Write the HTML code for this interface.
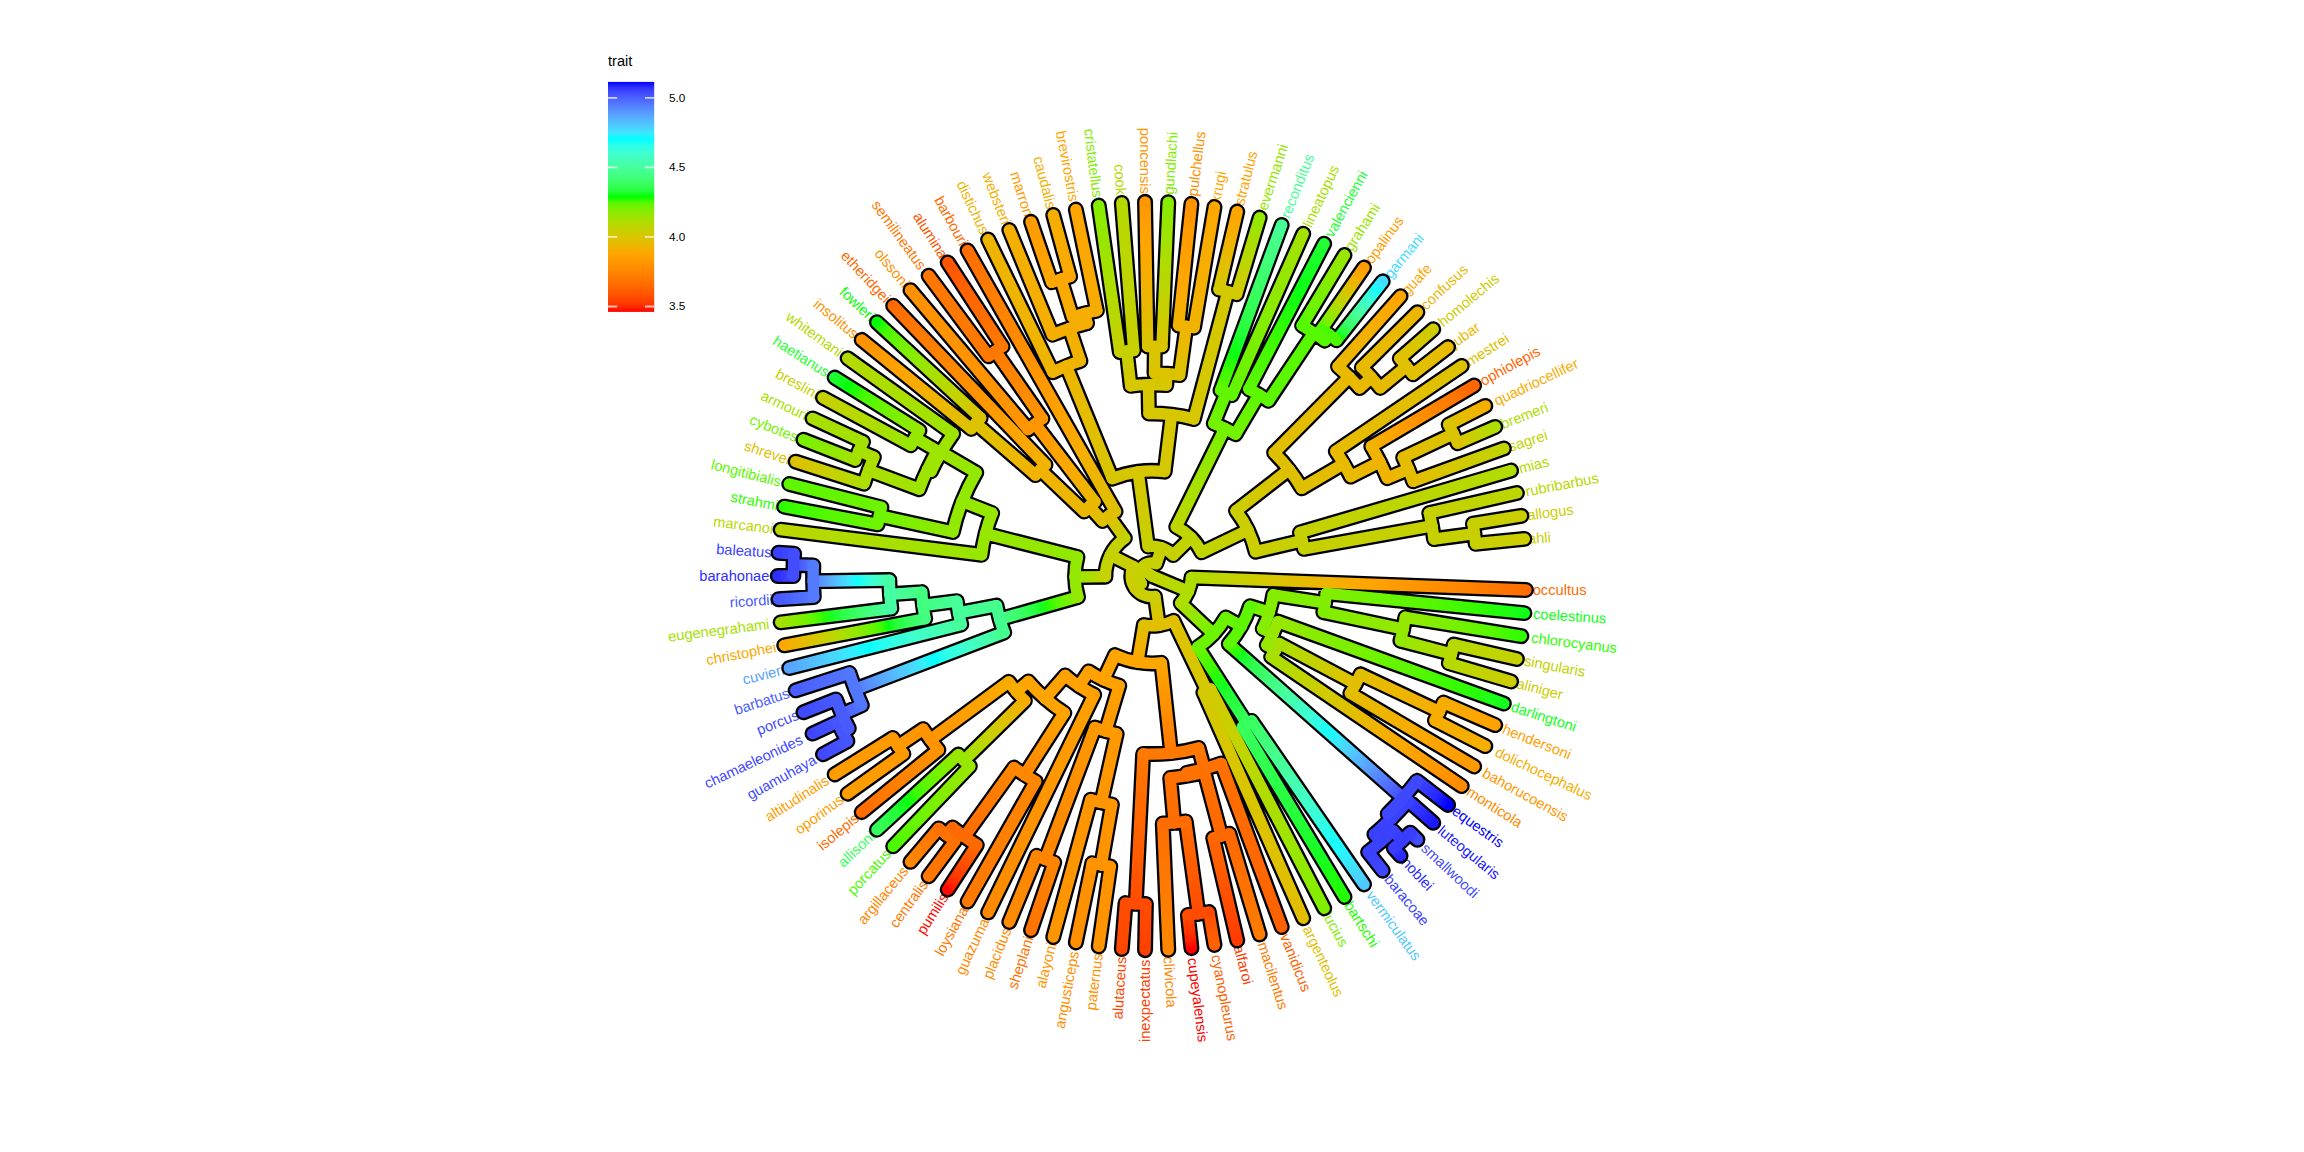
<!DOCTYPE html>
<html><head><meta charset="utf-8"><title>tree</title>
<style>html,body{margin:0;padding:0;background:#fff}svg{display:block}text{font-family:"Liberation Sans",sans-serif}</style>
</head><body>
<svg width="2304" height="1152" viewBox="0 0 2304 1152">
<defs><linearGradient id="g1" gradientUnits="userSpaceOnUse" x1="1475.61" y1="543.75" x2="1524.36" y2="538.89"><stop offset="0.000" stop-color="#c8cf00"/><stop offset="1.000" stop-color="#cbce00"/></linearGradient><linearGradient id="g2" gradientUnits="userSpaceOnUse" x1="1472.99" y1="523.73" x2="1521.34" y2="515.86"><stop offset="0.000" stop-color="#c8cf00"/><stop offset="1.000" stop-color="#cace00"/></linearGradient><linearGradient id="g3" gradientUnits="userSpaceOnUse" x1="1433.98" y1="539.03" x2="1474.46" y2="533.72"><stop offset="0.000" stop-color="#c5d100"/><stop offset="1.000" stop-color="#c8cf00"/></linearGradient><linearGradient id="g4" gradientUnits="userSpaceOnUse" x1="1429.32" y1="512.96" x2="1516.89" y2="493.06"><stop offset="0.000" stop-color="#c5d100"/><stop offset="1.000" stop-color="#bbd600"/></linearGradient><linearGradient id="g5" gradientUnits="userSpaceOnUse" x1="1303.87" y1="548.84" x2="1431.95" y2="525.94"><stop offset="0.000" stop-color="#c6d000"/><stop offset="1.000" stop-color="#c5d100"/></linearGradient><linearGradient id="g6" gradientUnits="userSpaceOnUse" x1="1300.03" y1="532.53" x2="1511.04" y2="470.58"><stop offset="0.000" stop-color="#c6d000"/><stop offset="0.500" stop-color="#bdd600"/><stop offset="1.000" stop-color="#b2db00"/></linearGradient><linearGradient id="g7" gradientUnits="userSpaceOnUse" x1="1255.55" y1="551.61" x2="1302.17" y2="540.64"><stop offset="0.000" stop-color="#cbce00"/><stop offset="1.000" stop-color="#c6d000"/></linearGradient><linearGradient id="g8" gradientUnits="userSpaceOnUse" x1="1413.18" y1="481.34" x2="1503.81" y2="448.50"><stop offset="0.000" stop-color="#e4bd00"/><stop offset="0.250" stop-color="#dcc300"/><stop offset="0.500" stop-color="#d3c900"/><stop offset="0.750" stop-color="#cace00"/><stop offset="1.000" stop-color="#c0d400"/></linearGradient><linearGradient id="g9" gradientUnits="userSpaceOnUse" x1="1457.57" y1="443.27" x2="1495.22" y2="426.92"><stop offset="0.000" stop-color="#dac400"/><stop offset="0.250" stop-color="#d0cb00"/><stop offset="0.500" stop-color="#c5d100"/><stop offset="0.750" stop-color="#b9d800"/><stop offset="1.000" stop-color="#acde00"/></linearGradient><linearGradient id="g10" gradientUnits="userSpaceOnUse" x1="1448.75" y1="424.57" x2="1485.31" y2="405.91"><stop offset="0.000" stop-color="#dac400"/><stop offset="0.250" stop-color="#e2be00"/><stop offset="0.500" stop-color="#e9b900"/><stop offset="0.750" stop-color="#f0b300"/><stop offset="1.000" stop-color="#f7ac00"/></linearGradient><linearGradient id="g11" gradientUnits="userSpaceOnUse" x1="1403.25" y1="457.47" x2="1453.30" y2="433.85"><stop offset="0.000" stop-color="#e4bd00"/><stop offset="0.500" stop-color="#dfc000"/><stop offset="1.000" stop-color="#dac400"/></linearGradient><linearGradient id="g12" gradientUnits="userSpaceOnUse" x1="1387.25" y1="478.13" x2="1408.49" y2="469.29"><stop offset="0.000" stop-color="#f0b300"/><stop offset="0.500" stop-color="#eab800"/><stop offset="1.000" stop-color="#e4bd00"/></linearGradient><linearGradient id="g13" gradientUnits="userSpaceOnUse" x1="1371.33" y1="446.33" x2="1474.11" y2="385.56"><stop offset="0.000" stop-color="#f0b300"/><stop offset="0.100" stop-color="#f8ab00"/><stop offset="0.200" stop-color="#ffa400"/><stop offset="0.300" stop-color="#ff9c00"/><stop offset="0.400" stop-color="#ff9500"/><stop offset="0.500" stop-color="#ff8e00"/><stop offset="0.600" stop-color="#ff8600"/><stop offset="0.700" stop-color="#ff7e00"/><stop offset="0.800" stop-color="#ff7600"/><stop offset="0.900" stop-color="#ff6e00"/><stop offset="1.000" stop-color="#ff6500"/></linearGradient><linearGradient id="g14" gradientUnits="userSpaceOnUse" x1="1350.66" y1="476.56" x2="1379.84" y2="461.95"><stop offset="0.000" stop-color="#e8ba00"/><stop offset="1.000" stop-color="#f0b300"/></linearGradient><linearGradient id="g15" gradientUnits="userSpaceOnUse" x1="1335.85" y1="451.29" x2="1461.68" y2="365.94"><stop offset="0.000" stop-color="#e8ba00"/><stop offset="0.500" stop-color="#e2be00"/><stop offset="1.000" stop-color="#ddc200"/></linearGradient><linearGradient id="g16" gradientUnits="userSpaceOnUse" x1="1301.74" y1="488.25" x2="1343.68" y2="463.68"><stop offset="0.000" stop-color="#dfc000"/><stop offset="1.000" stop-color="#e8ba00"/></linearGradient><linearGradient id="g17" gradientUnits="userSpaceOnUse" x1="1412.85" y1="374.34" x2="1448.05" y2="347.13"><stop offset="0.000" stop-color="#e0c000"/><stop offset="1.000" stop-color="#e8ba00"/></linearGradient><linearGradient id="g18" gradientUnits="userSpaceOnUse" x1="1399.83" y1="358.54" x2="1433.27" y2="329.20"><stop offset="0.000" stop-color="#e0c000"/><stop offset="0.500" stop-color="#d7c600"/><stop offset="1.000" stop-color="#cdcc00"/></linearGradient><linearGradient id="g19" gradientUnits="userSpaceOnUse" x1="1380.32" y1="387.88" x2="1406.46" y2="366.34"><stop offset="0.000" stop-color="#e7ba00"/><stop offset="1.000" stop-color="#e0c000"/></linearGradient><linearGradient id="g20" gradientUnits="userSpaceOnUse" x1="1361.84" y1="367.46" x2="1417.42" y2="312.22"><stop offset="0.000" stop-color="#e7ba00"/><stop offset="1.000" stop-color="#ecb600"/></linearGradient><linearGradient id="g21" gradientUnits="userSpaceOnUse" x1="1359.64" y1="388.02" x2="1371.32" y2="377.45"><stop offset="0.000" stop-color="#e9b900"/><stop offset="1.000" stop-color="#e7ba00"/></linearGradient><linearGradient id="g22" gradientUnits="userSpaceOnUse" x1="1338.03" y1="366.62" x2="1400.54" y2="296.26"><stop offset="0.000" stop-color="#e9b900"/><stop offset="0.333" stop-color="#f1b200"/><stop offset="0.667" stop-color="#f8ac00"/><stop offset="1.000" stop-color="#fea600"/></linearGradient><linearGradient id="g23" gradientUnits="userSpaceOnUse" x1="1274.15" y1="452.71" x2="1349.13" y2="377.03"><stop offset="0.000" stop-color="#dfc000"/><stop offset="0.500" stop-color="#e4bc00"/><stop offset="1.000" stop-color="#e9b900"/></linearGradient><linearGradient id="g24" gradientUnits="userSpaceOnUse" x1="1236.04" y1="510.77" x2="1289.10" y2="469.58"><stop offset="0.000" stop-color="#cbce00"/><stop offset="0.500" stop-color="#d5c700"/><stop offset="1.000" stop-color="#dfc000"/></linearGradient><linearGradient id="g25" gradientUnits="userSpaceOnUse" x1="1201.50" y1="552.35" x2="1247.99" y2="530.14"><stop offset="0.000" stop-color="#bfd400"/><stop offset="0.500" stop-color="#c5d100"/><stop offset="1.000" stop-color="#cbce00"/></linearGradient><linearGradient id="g26" gradientUnits="userSpaceOnUse" x1="1336.56" y1="340.30" x2="1382.71" y2="281.38"><stop offset="0.000" stop-color="#4cfa00"/><stop offset="0.056" stop-color="#0eff00"/><stop offset="0.111" stop-color="#1eff2e"/><stop offset="0.167" stop-color="#2cff46"/><stop offset="0.222" stop-color="#35ff59"/><stop offset="0.278" stop-color="#3cff6a"/><stop offset="0.333" stop-color="#40ff7a"/><stop offset="0.389" stop-color="#44ff89"/><stop offset="0.444" stop-color="#45ff97"/><stop offset="0.500" stop-color="#46ffa5"/><stop offset="0.556" stop-color="#45ffb3"/><stop offset="0.611" stop-color="#43ffc1"/><stop offset="0.667" stop-color="#3effce"/><stop offset="0.722" stop-color="#38ffdc"/><stop offset="0.778" stop-color="#2dffe9"/><stop offset="0.833" stop-color="#1bfff7"/><stop offset="0.889" stop-color="#1df9ff"/><stop offset="0.944" stop-color="#38eaff"/><stop offset="1.000" stop-color="#45dbff"/></linearGradient><linearGradient id="g27" gradientUnits="userSpaceOnUse" x1="1321.58" y1="329.31" x2="1363.98" y2="267.63"><stop offset="0.000" stop-color="#4cfa00"/><stop offset="0.071" stop-color="#69f400"/><stop offset="0.143" stop-color="#7fee00"/><stop offset="0.214" stop-color="#91e900"/><stop offset="0.286" stop-color="#a1e300"/><stop offset="0.357" stop-color="#afdd00"/><stop offset="0.429" stop-color="#bcd600"/><stop offset="0.500" stop-color="#c7d000"/><stop offset="0.571" stop-color="#d2c900"/><stop offset="0.643" stop-color="#dcc200"/><stop offset="0.714" stop-color="#e6bb00"/><stop offset="0.786" stop-color="#efb300"/><stop offset="0.857" stop-color="#f8ab00"/><stop offset="0.929" stop-color="#ffa300"/><stop offset="1.000" stop-color="#ff9c00"/></linearGradient><linearGradient id="g28" gradientUnits="userSpaceOnUse" x1="1324.80" y1="340.63" x2="1329.16" y2="334.69"><stop offset="0.000" stop-color="#56f800"/><stop offset="1.000" stop-color="#4cfa00"/></linearGradient><linearGradient id="g29" gradientUnits="userSpaceOnUse" x1="1302.16" y1="325.58" x2="1344.44" y2="255.08"><stop offset="0.000" stop-color="#56f800"/><stop offset="0.250" stop-color="#6cf400"/><stop offset="0.500" stop-color="#7def00"/><stop offset="0.750" stop-color="#8ceb00"/><stop offset="1.000" stop-color="#99e600"/></linearGradient><linearGradient id="g30" gradientUnits="userSpaceOnUse" x1="1268.53" y1="400.71" x2="1313.65" y2="332.84"><stop offset="0.000" stop-color="#5df700"/><stop offset="1.000" stop-color="#56f800"/></linearGradient><linearGradient id="g31" gradientUnits="userSpaceOnUse" x1="1248.84" y1="389.11" x2="1324.16" y2="243.75"><stop offset="0.000" stop-color="#5df700"/><stop offset="0.333" stop-color="#3dfb00"/><stop offset="0.667" stop-color="#0bff13"/><stop offset="1.000" stop-color="#22ff35"/></linearGradient><linearGradient id="g32" gradientUnits="userSpaceOnUse" x1="1235.56" y1="434.17" x2="1258.84" y2="394.65"><stop offset="0.000" stop-color="#73f200"/><stop offset="1.000" stop-color="#5df700"/></linearGradient><linearGradient id="g33" gradientUnits="userSpaceOnUse" x1="1231.93" y1="395.07" x2="1303.21" y2="233.71"><stop offset="0.000" stop-color="#5ff600"/><stop offset="0.250" stop-color="#76f100"/><stop offset="0.500" stop-color="#88ec00"/><stop offset="0.750" stop-color="#97e600"/><stop offset="1.000" stop-color="#a5e100"/></linearGradient><linearGradient id="g34" gradientUnits="userSpaceOnUse" x1="1220.55" y1="390.46" x2="1281.68" y2="224.99"><stop offset="0.000" stop-color="#5ff600"/><stop offset="0.111" stop-color="#3ffb00"/><stop offset="0.222" stop-color="#09ff11"/><stop offset="0.333" stop-color="#21ff34"/><stop offset="0.444" stop-color="#2eff4a"/><stop offset="0.556" stop-color="#36ff5b"/><stop offset="0.667" stop-color="#3cff6b"/><stop offset="0.778" stop-color="#40ff7a"/><stop offset="0.889" stop-color="#44ff88"/><stop offset="1.000" stop-color="#45ff96"/></linearGradient><linearGradient id="g35" gradientUnits="userSpaceOnUse" x1="1213.81" y1="423.44" x2="1226.28" y2="392.67"><stop offset="0.000" stop-color="#73f200"/><stop offset="1.000" stop-color="#5ff600"/></linearGradient><linearGradient id="g36" gradientUnits="userSpaceOnUse" x1="1176.29" y1="526.81" x2="1224.88" y2="428.40"><stop offset="0.000" stop-color="#bfd400"/><stop offset="0.200" stop-color="#b3db00"/><stop offset="0.400" stop-color="#a6e100"/><stop offset="0.600" stop-color="#98e600"/><stop offset="0.800" stop-color="#87ec00"/><stop offset="1.000" stop-color="#73f200"/></linearGradient><linearGradient id="g37" gradientUnits="userSpaceOnUse" x1="1173.17" y1="555.10" x2="1191.04" y2="537.46"><stop offset="0.000" stop-color="#c6d000"/><stop offset="1.000" stop-color="#bfd400"/></linearGradient><linearGradient id="g38" gradientUnits="userSpaceOnUse" x1="1236.67" y1="294.13" x2="1259.65" y2="217.62"><stop offset="0.000" stop-color="#d3c900"/><stop offset="0.167" stop-color="#cace00"/><stop offset="0.333" stop-color="#c1d400"/><stop offset="0.500" stop-color="#b6d900"/><stop offset="0.667" stop-color="#abde00"/><stop offset="0.833" stop-color="#a0e300"/><stop offset="1.000" stop-color="#92e800"/></linearGradient><linearGradient id="g39" gradientUnits="userSpaceOnUse" x1="1219.02" y1="289.42" x2="1237.21" y2="211.63"><stop offset="0.000" stop-color="#d3c900"/><stop offset="0.200" stop-color="#ddc200"/><stop offset="0.400" stop-color="#e7bb00"/><stop offset="0.600" stop-color="#f0b300"/><stop offset="0.800" stop-color="#f8ac00"/><stop offset="1.000" stop-color="#ffa400"/></linearGradient><linearGradient id="g40" gradientUnits="userSpaceOnUse" x1="1193.90" y1="418.98" x2="1227.88" y2="291.64"><stop offset="0.000" stop-color="#d6c700"/><stop offset="1.000" stop-color="#d3c900"/></linearGradient><linearGradient id="g41" gradientUnits="userSpaceOnUse" x1="1194.03" y1="327.62" x2="1214.44" y2="207.05"><stop offset="0.000" stop-color="#f0b300"/><stop offset="0.500" stop-color="#f6ae00"/><stop offset="1.000" stop-color="#fca800"/></linearGradient><linearGradient id="g42" gradientUnits="userSpaceOnUse" x1="1178.54" y1="325.49" x2="1191.42" y2="203.88"><stop offset="0.000" stop-color="#f0b300"/><stop offset="0.200" stop-color="#f8ac00"/><stop offset="0.400" stop-color="#ffa500"/><stop offset="0.600" stop-color="#ff9f00"/><stop offset="0.800" stop-color="#ff9900"/><stop offset="1.000" stop-color="#ff9200"/></linearGradient><linearGradient id="g43" gradientUnits="userSpaceOnUse" x1="1179.61" y1="375.11" x2="1186.30" y2="326.43"><stop offset="0.000" stop-color="#dbc300"/><stop offset="0.333" stop-color="#e2be00"/><stop offset="0.667" stop-color="#e9b900"/><stop offset="1.000" stop-color="#f0b300"/></linearGradient><linearGradient id="g44" gradientUnits="userSpaceOnUse" x1="1161.97" y1="346.65" x2="1168.26" y2="202.15"><stop offset="0.000" stop-color="#dac400"/><stop offset="0.143" stop-color="#d0ca00"/><stop offset="0.286" stop-color="#c6d100"/><stop offset="0.429" stop-color="#bbd600"/><stop offset="0.571" stop-color="#b0dc00"/><stop offset="0.714" stop-color="#a3e200"/><stop offset="0.857" stop-color="#95e700"/><stop offset="1.000" stop-color="#85ed00"/></linearGradient><linearGradient id="g45" gradientUnits="userSpaceOnUse" x1="1147.72" y1="346.47" x2="1145.03" y2="201.86"><stop offset="0.000" stop-color="#dac400"/><stop offset="0.167" stop-color="#e3bd00"/><stop offset="0.333" stop-color="#edb600"/><stop offset="0.500" stop-color="#f5ae00"/><stop offset="0.667" stop-color="#fea600"/><stop offset="0.833" stop-color="#ff9f00"/><stop offset="1.000" stop-color="#ff9700"/></linearGradient><linearGradient id="g46" gradientUnits="userSpaceOnUse" x1="1166.25" y1="385.09" x2="1167.09" y2="373.78"><stop offset="0.000" stop-color="#d6c700"/><stop offset="1.000" stop-color="#dbc300"/></linearGradient><linearGradient id="g47" gradientUnits="userSpaceOnUse" x1="1133.76" y1="350.46" x2="1121.83" y2="203.02"><stop offset="0.000" stop-color="#c7d000"/><stop offset="0.500" stop-color="#bed500"/><stop offset="1.000" stop-color="#b6d900"/></linearGradient><linearGradient id="g48" gradientUnits="userSpaceOnUse" x1="1119.80" y1="352.02" x2="1098.75" y2="205.61"><stop offset="0.000" stop-color="#c7d000"/><stop offset="0.200" stop-color="#bcd600"/><stop offset="0.400" stop-color="#b0dc00"/><stop offset="0.600" stop-color="#a3e200"/><stop offset="0.800" stop-color="#95e700"/><stop offset="1.000" stop-color="#84ed00"/></linearGradient><linearGradient id="g49" gradientUnits="userSpaceOnUse" x1="1130.65" y1="385.75" x2="1126.76" y2="351.13"><stop offset="0.000" stop-color="#d6c700"/><stop offset="0.500" stop-color="#cecc00"/><stop offset="1.000" stop-color="#c7d000"/></linearGradient><linearGradient id="g50" gradientUnits="userSpaceOnUse" x1="1096.86" y1="310.67" x2="1075.87" y2="209.63"><stop offset="0.000" stop-color="#f7ac00"/><stop offset="1.000" stop-color="#ffa500"/></linearGradient><linearGradient id="g51" gradientUnits="userSpaceOnUse" x1="1070.11" y1="276.60" x2="1053.28" y2="215.06"><stop offset="0.000" stop-color="#fca800"/><stop offset="1.000" stop-color="#f4af00"/></linearGradient><linearGradient id="g52" gradientUnits="userSpaceOnUse" x1="1051.69" y1="282.26" x2="1031.08" y2="221.88"><stop offset="0.000" stop-color="#fca800"/><stop offset="0.500" stop-color="#ffa100"/><stop offset="1.000" stop-color="#ff9a00"/></linearGradient><linearGradient id="g53" gradientUnits="userSpaceOnUse" x1="1072.43" y1="316.95" x2="1060.86" y2="279.28"><stop offset="0.000" stop-color="#f7ac00"/><stop offset="1.000" stop-color="#fca800"/></linearGradient><linearGradient id="g54" gradientUnits="userSpaceOnUse" x1="1087.06" y1="323.20" x2="1084.57" y2="313.53"><stop offset="0.000" stop-color="#f5ae00"/><stop offset="1.000" stop-color="#f7ac00"/></linearGradient><linearGradient id="g55" gradientUnits="userSpaceOnUse" x1="1052.49" y1="334.71" x2="1009.34" y2="230.06"><stop offset="0.000" stop-color="#f5ae00"/><stop offset="1.000" stop-color="#f3b000"/></linearGradient><linearGradient id="g56" gradientUnits="userSpaceOnUse" x1="1080.41" y1="360.91" x2="1069.57" y2="328.35"><stop offset="0.000" stop-color="#efb400"/><stop offset="1.000" stop-color="#f5ae00"/></linearGradient><linearGradient id="g57" gradientUnits="userSpaceOnUse" x1="1112.29" y1="478.64" x2="1066.39" y2="366.10"><stop offset="0.000" stop-color="#d6c600"/><stop offset="0.333" stop-color="#dfc000"/><stop offset="0.667" stop-color="#e7ba00"/><stop offset="1.000" stop-color="#efb400"/></linearGradient><linearGradient id="g58" gradientUnits="userSpaceOnUse" x1="1148.05" y1="546.51" x2="1138.05" y2="471.78"><stop offset="0.000" stop-color="#c6d000"/><stop offset="0.500" stop-color="#cfcb00"/><stop offset="1.000" stop-color="#d6c600"/></linearGradient><linearGradient id="g59" gradientUnits="userSpaceOnUse" x1="1115.51" y1="511.56" x2="967.59" y2="250.40"><stop offset="0.000" stop-color="#dfc000"/><stop offset="0.091" stop-color="#e8b900"/><stop offset="0.182" stop-color="#f1b200"/><stop offset="0.273" stop-color="#faaa00"/><stop offset="0.364" stop-color="#ffa300"/><stop offset="0.455" stop-color="#ff9c00"/><stop offset="0.545" stop-color="#ff9400"/><stop offset="0.636" stop-color="#ff8d00"/><stop offset="0.727" stop-color="#ff8500"/><stop offset="0.818" stop-color="#ff7e00"/><stop offset="0.909" stop-color="#ff7500"/><stop offset="1.000" stop-color="#ff6d00"/></linearGradient><linearGradient id="g60" gradientUnits="userSpaceOnUse" x1="1002.50" y1="346.52" x2="947.74" y2="262.47"><stop offset="0.000" stop-color="#ff7900"/><stop offset="0.250" stop-color="#ff7100"/><stop offset="0.500" stop-color="#ff6800"/><stop offset="0.750" stop-color="#ff5f00"/><stop offset="1.000" stop-color="#ff5400"/></linearGradient><linearGradient id="g61" gradientUnits="userSpaceOnUse" x1="988.55" y1="356.24" x2="928.68" y2="275.74"><stop offset="0.000" stop-color="#ff7900"/><stop offset="1.000" stop-color="#ff7700"/></linearGradient><linearGradient id="g62" gradientUnits="userSpaceOnUse" x1="1042.38" y1="418.64" x2="995.45" y2="351.27"><stop offset="0.000" stop-color="#ff9500"/><stop offset="0.250" stop-color="#ff8f00"/><stop offset="0.500" stop-color="#ff8800"/><stop offset="0.750" stop-color="#ff8100"/><stop offset="1.000" stop-color="#ff7900"/></linearGradient><linearGradient id="g63" gradientUnits="userSpaceOnUse" x1="1028.22" y1="429.52" x2="910.48" y2="290.18"><stop offset="0.000" stop-color="#ff9500"/><stop offset="1.000" stop-color="#ff9100"/></linearGradient><linearGradient id="g64" gradientUnits="userSpaceOnUse" x1="1094.97" y1="501.75" x2="1035.17" y2="423.91"><stop offset="0.000" stop-color="#eab800"/><stop offset="0.200" stop-color="#f2b100"/><stop offset="0.400" stop-color="#faaa00"/><stop offset="0.600" stop-color="#ffa300"/><stop offset="0.800" stop-color="#ff9c00"/><stop offset="1.000" stop-color="#ff9500"/></linearGradient><linearGradient id="g65" gradientUnits="userSpaceOnUse" x1="1045.46" y1="464.72" x2="893.21" y2="305.71"><stop offset="0.000" stop-color="#f1b200"/><stop offset="0.111" stop-color="#faaa00"/><stop offset="0.222" stop-color="#ffa200"/><stop offset="0.333" stop-color="#ff9b00"/><stop offset="0.444" stop-color="#ff9400"/><stop offset="0.556" stop-color="#ff8c00"/><stop offset="0.667" stop-color="#ff8400"/><stop offset="0.778" stop-color="#ff7c00"/><stop offset="0.889" stop-color="#ff7400"/><stop offset="1.000" stop-color="#ff6b00"/></linearGradient><linearGradient id="g66" gradientUnits="userSpaceOnUse" x1="980.64" y1="417.94" x2="876.94" y2="322.29"><stop offset="0.000" stop-color="#ddc200"/><stop offset="0.091" stop-color="#d3c800"/><stop offset="0.182" stop-color="#cacf00"/><stop offset="0.273" stop-color="#bfd500"/><stop offset="0.364" stop-color="#b4da00"/><stop offset="0.455" stop-color="#a7e000"/><stop offset="0.545" stop-color="#9ae500"/><stop offset="0.636" stop-color="#8beb00"/><stop offset="0.727" stop-color="#79f000"/><stop offset="0.818" stop-color="#64f500"/><stop offset="0.909" stop-color="#47fa00"/><stop offset="1.000" stop-color="#01ff02"/></linearGradient><linearGradient id="g67" gradientUnits="userSpaceOnUse" x1="971.16" y1="428.88" x2="861.73" y2="339.85"><stop offset="0.000" stop-color="#ddc200"/><stop offset="0.143" stop-color="#e5bc00"/><stop offset="0.286" stop-color="#eeb500"/><stop offset="0.429" stop-color="#f6ae00"/><stop offset="0.571" stop-color="#fda700"/><stop offset="0.714" stop-color="#ffa000"/><stop offset="0.857" stop-color="#ff9900"/><stop offset="1.000" stop-color="#ff9200"/></linearGradient><linearGradient id="g68" gradientUnits="userSpaceOnUse" x1="1035.57" y1="475.11" x2="975.81" y2="423.33"><stop offset="0.000" stop-color="#f1b200"/><stop offset="0.333" stop-color="#ebb800"/><stop offset="0.667" stop-color="#e4bd00"/><stop offset="1.000" stop-color="#ddc200"/></linearGradient><linearGradient id="g69" gradientUnits="userSpaceOnUse" x1="1084.17" y1="511.46" x2="1040.39" y2="469.80"><stop offset="0.000" stop-color="#eab800"/><stop offset="1.000" stop-color="#f1b200"/></linearGradient><linearGradient id="g70" gradientUnits="userSpaceOnUse" x1="1102.47" y1="520.95" x2="1089.38" y2="506.40"><stop offset="0.000" stop-color="#dfc000"/><stop offset="0.500" stop-color="#e5bc00"/><stop offset="1.000" stop-color="#eab800"/></linearGradient><linearGradient id="g71" gradientUnits="userSpaceOnUse" x1="1124.80" y1="538.22" x2="1108.73" y2="515.90"><stop offset="0.000" stop-color="#c3d200"/><stop offset="0.333" stop-color="#cdcc00"/><stop offset="0.667" stop-color="#d6c600"/><stop offset="1.000" stop-color="#dfc000"/></linearGradient><linearGradient id="g72" gradientUnits="userSpaceOnUse" x1="953.13" y1="433.76" x2="847.64" y2="358.31"><stop offset="0.000" stop-color="#9de400"/><stop offset="0.500" stop-color="#a9df00"/><stop offset="1.000" stop-color="#b3da00"/></linearGradient><linearGradient id="g73" gradientUnits="userSpaceOnUse" x1="919.43" y1="430.59" x2="834.72" y2="377.62"><stop offset="0.000" stop-color="#96e700"/><stop offset="0.167" stop-color="#87ec00"/><stop offset="0.333" stop-color="#76f100"/><stop offset="0.500" stop-color="#61f600"/><stop offset="0.667" stop-color="#43fb00"/><stop offset="0.833" stop-color="#04ff07"/><stop offset="1.000" stop-color="#1fff30"/></linearGradient><linearGradient id="g74" gradientUnits="userSpaceOnUse" x1="910.86" y1="445.30" x2="823.02" y2="397.69"><stop offset="0.000" stop-color="#96e700"/><stop offset="0.250" stop-color="#a4e100"/><stop offset="0.500" stop-color="#b0dc00"/><stop offset="0.750" stop-color="#bcd600"/><stop offset="1.000" stop-color="#c6d100"/></linearGradient><linearGradient id="g75" gradientUnits="userSpaceOnUse" x1="937.34" y1="450.88" x2="915.03" y2="437.87"><stop offset="0.000" stop-color="#9de400"/><stop offset="1.000" stop-color="#96e700"/></linearGradient><linearGradient id="g76" gradientUnits="userSpaceOnUse" x1="862.96" y1="441.82" x2="812.59" y2="418.44"><stop offset="0.000" stop-color="#a3e200"/><stop offset="1.000" stop-color="#a9df00"/></linearGradient><linearGradient id="g77" gradientUnits="userSpaceOnUse" x1="855.19" y1="460.02" x2="803.47" y2="439.80"><stop offset="0.000" stop-color="#a3e200"/><stop offset="0.333" stop-color="#96e700"/><stop offset="0.667" stop-color="#87ec00"/><stop offset="1.000" stop-color="#76f100"/></linearGradient><linearGradient id="g78" gradientUnits="userSpaceOnUse" x1="873.83" y1="457.22" x2="858.93" y2="450.86"><stop offset="0.000" stop-color="#acde00"/><stop offset="1.000" stop-color="#a3e200"/></linearGradient><linearGradient id="g79" gradientUnits="userSpaceOnUse" x1="863.99" y1="483.61" x2="795.69" y2="461.69"><stop offset="0.000" stop-color="#acde00"/><stop offset="0.200" stop-color="#b8d800"/><stop offset="0.400" stop-color="#c2d300"/><stop offset="0.600" stop-color="#cccd00"/><stop offset="0.800" stop-color="#d5c700"/><stop offset="1.000" stop-color="#dec100"/></linearGradient><linearGradient id="g80" gradientUnits="userSpaceOnUse" x1="919.20" y1="489.17" x2="868.60" y2="470.30"><stop offset="0.000" stop-color="#9de400"/><stop offset="0.500" stop-color="#a5e100"/><stop offset="1.000" stop-color="#acde00"/></linearGradient><linearGradient id="g81" gradientUnits="userSpaceOnUse" x1="976.21" y1="472.62" x2="941.24" y2="452.05"><stop offset="0.000" stop-color="#92e800"/><stop offset="1.000" stop-color="#9de400"/></linearGradient><linearGradient id="g82" gradientUnits="userSpaceOnUse" x1="881.41" y1="507.38" x2="789.28" y2="484.02"><stop offset="0.000" stop-color="#6ef300"/><stop offset="1.000" stop-color="#5cf700"/></linearGradient><linearGradient id="g83" gradientUnits="userSpaceOnUse" x1="877.68" y1="524.30" x2="784.27" y2="506.70"><stop offset="0.000" stop-color="#6ef300"/><stop offset="0.500" stop-color="#56f800"/><stop offset="1.000" stop-color="#32fd00"/></linearGradient><linearGradient id="g84" gradientUnits="userSpaceOnUse" x1="952.86" y1="532.03" x2="879.41" y2="515.82"><stop offset="0.000" stop-color="#92e800"/><stop offset="0.500" stop-color="#82ee00"/><stop offset="1.000" stop-color="#6ef300"/></linearGradient><linearGradient id="g85" gradientUnits="userSpaceOnUse" x1="992.14" y1="513.18" x2="962.19" y2="501.41"><stop offset="0.000" stop-color="#97e600"/><stop offset="1.000" stop-color="#92e800"/></linearGradient><linearGradient id="g86" gradientUnits="userSpaceOnUse" x1="981.56" y1="554.73" x2="780.68" y2="529.65"><stop offset="0.000" stop-color="#97e600"/><stop offset="0.333" stop-color="#a4e100"/><stop offset="0.667" stop-color="#b0dc00"/><stop offset="1.000" stop-color="#bbd700"/></linearGradient><linearGradient id="g87" gradientUnits="userSpaceOnUse" x1="1077.44" y1="557.02" x2="985.55" y2="533.62"><stop offset="0.000" stop-color="#92e800"/><stop offset="1.000" stop-color="#97e600"/></linearGradient><linearGradient id="g88" gradientUnits="userSpaceOnUse" x1="794.10" y1="553.75" x2="778.52" y2="552.78"><stop offset="0.000" stop-color="#414dff"/><stop offset="1.000" stop-color="#3940ff"/></linearGradient><linearGradient id="g89" gradientUnits="userSpaceOnUse" x1="793.40" y1="576.00" x2="777.80" y2="576.00"><stop offset="0.000" stop-color="#414dff"/><stop offset="0.500" stop-color="#393fff"/><stop offset="1.000" stop-color="#2d2fff"/></linearGradient><linearGradient id="g90" gradientUnits="userSpaceOnUse" x1="813.29" y1="565.48" x2="793.58" y2="564.87"><stop offset="0.000" stop-color="#537aff"/><stop offset="0.333" stop-color="#4f6bff"/><stop offset="0.667" stop-color="#495cff"/><stop offset="1.000" stop-color="#414dff"/></linearGradient><linearGradient id="g91" gradientUnits="userSpaceOnUse" x1="813.78" y1="597.03" x2="778.52" y2="599.22"><stop offset="0.000" stop-color="#537aff"/><stop offset="0.333" stop-color="#506fff"/><stop offset="0.667" stop-color="#4c64ff"/><stop offset="1.000" stop-color="#4758ff"/></linearGradient><linearGradient id="g92" gradientUnits="userSpaceOnUse" x1="889.34" y1="580.08" x2="813.17" y2="581.26"><stop offset="0.000" stop-color="#46ffa5"/><stop offset="0.067" stop-color="#45ffb3"/><stop offset="0.133" stop-color="#42ffc1"/><stop offset="0.200" stop-color="#3effcf"/><stop offset="0.267" stop-color="#37ffdd"/><stop offset="0.333" stop-color="#2bffeb"/><stop offset="0.400" stop-color="#15fff9"/><stop offset="0.467" stop-color="#25f6ff"/><stop offset="0.533" stop-color="#3ce6ff"/><stop offset="0.600" stop-color="#48d7ff"/><stop offset="0.667" stop-color="#50c7ff"/><stop offset="0.733" stop-color="#55b8ff"/><stop offset="0.800" stop-color="#57a8ff"/><stop offset="0.867" stop-color="#5899ff"/><stop offset="0.933" stop-color="#568aff"/><stop offset="1.000" stop-color="#537aff"/></linearGradient><linearGradient id="g93" gradientUnits="userSpaceOnUse" x1="891.33" y1="608.54" x2="780.68" y2="622.35"><stop offset="0.000" stop-color="#46ffa5"/><stop offset="0.077" stop-color="#45ff96"/><stop offset="0.154" stop-color="#43ff87"/><stop offset="0.231" stop-color="#40ff78"/><stop offset="0.308" stop-color="#3bff67"/><stop offset="0.385" stop-color="#33ff55"/><stop offset="0.462" stop-color="#29ff41"/><stop offset="0.538" stop-color="#17ff25"/><stop offset="0.615" stop-color="#2efd00"/><stop offset="0.692" stop-color="#58f800"/><stop offset="0.769" stop-color="#71f200"/><stop offset="0.846" stop-color="#86ec00"/><stop offset="0.923" stop-color="#97e700"/><stop offset="1.000" stop-color="#a5e100"/></linearGradient><linearGradient id="g94" gradientUnits="userSpaceOnUse" x1="921.72" y1="592.11" x2="889.95" y2="594.33"><stop offset="0.000" stop-color="#42ff7f"/><stop offset="0.333" stop-color="#44ff8c"/><stop offset="0.667" stop-color="#46ff99"/><stop offset="1.000" stop-color="#46ffa5"/></linearGradient><linearGradient id="g95" gradientUnits="userSpaceOnUse" x1="925.15" y1="618.75" x2="784.27" y2="645.30"><stop offset="0.000" stop-color="#42ff7f"/><stop offset="0.053" stop-color="#3eff70"/><stop offset="0.105" stop-color="#38ff5f"/><stop offset="0.158" stop-color="#2fff4c"/><stop offset="0.211" stop-color="#22ff36"/><stop offset="0.263" stop-color="#09ff10"/><stop offset="0.316" stop-color="#43fb00"/><stop offset="0.368" stop-color="#63f500"/><stop offset="0.421" stop-color="#7af000"/><stop offset="0.474" stop-color="#8cea00"/><stop offset="0.526" stop-color="#9ce500"/><stop offset="0.579" stop-color="#aadf00"/><stop offset="0.632" stop-color="#b7d900"/><stop offset="0.684" stop-color="#c3d200"/><stop offset="0.737" stop-color="#cecc00"/><stop offset="0.789" stop-color="#d8c500"/><stop offset="0.842" stop-color="#e2be00"/><stop offset="0.895" stop-color="#ebb700"/><stop offset="0.947" stop-color="#f4b000"/><stop offset="1.000" stop-color="#fca800"/></linearGradient><linearGradient id="g96" gradientUnits="userSpaceOnUse" x1="956.78" y1="601.14" x2="923.05" y2="605.48"><stop offset="0.000" stop-color="#46ff9a"/><stop offset="0.500" stop-color="#44ff8d"/><stop offset="1.000" stop-color="#42ff7f"/></linearGradient><linearGradient id="g97" gradientUnits="userSpaceOnUse" x1="961.21" y1="624.38" x2="789.28" y2="667.98"><stop offset="0.000" stop-color="#46ff9a"/><stop offset="0.077" stop-color="#46ffa9"/><stop offset="0.154" stop-color="#44ffb7"/><stop offset="0.231" stop-color="#41ffc5"/><stop offset="0.308" stop-color="#3cffd3"/><stop offset="0.385" stop-color="#34ffe2"/><stop offset="0.462" stop-color="#26fff0"/><stop offset="0.538" stop-color="#06fffe"/><stop offset="0.615" stop-color="#2ef1ff"/><stop offset="0.692" stop-color="#40e1ff"/><stop offset="0.769" stop-color="#4bd2ff"/><stop offset="0.846" stop-color="#52c2ff"/><stop offset="0.923" stop-color="#56b3ff"/><stop offset="1.000" stop-color="#57a3ff"/></linearGradient><linearGradient id="g98" gradientUnits="userSpaceOnUse" x1="996.51" y1="605.61" x2="958.65" y2="612.83"><stop offset="0.000" stop-color="#44ff8e"/><stop offset="1.000" stop-color="#46ff9a"/></linearGradient><linearGradient id="g99" gradientUnits="userSpaceOnUse" x1="849.49" y1="673.05" x2="795.69" y2="690.31"><stop offset="0.000" stop-color="#5277ff"/><stop offset="0.500" stop-color="#4f6aff"/><stop offset="1.000" stop-color="#4a5eff"/></linearGradient><linearGradient id="g100" gradientUnits="userSpaceOnUse" x1="835.88" y1="699.53" x2="803.47" y2="712.20"><stop offset="0.000" stop-color="#485bff"/><stop offset="1.000" stop-color="#3f4aff"/></linearGradient><linearGradient id="g101" gradientUnits="userSpaceOnUse" x1="837.70" y1="721.90" x2="812.59" y2="733.56"><stop offset="0.000" stop-color="#4655ff"/><stop offset="1.000" stop-color="#3e47ff"/></linearGradient><linearGradient id="g102" gradientUnits="userSpaceOnUse" x1="847.36" y1="741.12" x2="823.02" y2="754.31"><stop offset="0.000" stop-color="#4655ff"/><stop offset="1.000" stop-color="#404aff"/></linearGradient><linearGradient id="g103" gradientUnits="userSpaceOnUse" x1="848.74" y1="728.39" x2="842.38" y2="731.58"><stop offset="0.000" stop-color="#485bff"/><stop offset="1.000" stop-color="#4655ff"/></linearGradient><linearGradient id="g104" gradientUnits="userSpaceOnUse" x1="861.80" y1="705.28" x2="841.97" y2="714.11"><stop offset="0.000" stop-color="#5277ff"/><stop offset="0.500" stop-color="#4e69ff"/><stop offset="1.000" stop-color="#485bff"/></linearGradient><linearGradient id="g105" gradientUnits="userSpaceOnUse" x1="1004.13" y1="632.46" x2="855.21" y2="689.33"><stop offset="0.000" stop-color="#44ff8e"/><stop offset="0.059" stop-color="#46ff9d"/><stop offset="0.118" stop-color="#46ffab"/><stop offset="0.176" stop-color="#44ffb9"/><stop offset="0.235" stop-color="#41ffc7"/><stop offset="0.294" stop-color="#3bffd5"/><stop offset="0.353" stop-color="#33ffe3"/><stop offset="0.412" stop-color="#25fff0"/><stop offset="0.471" stop-color="#04fffe"/><stop offset="0.529" stop-color="#2ef1ff"/><stop offset="0.588" stop-color="#40e1ff"/><stop offset="0.647" stop-color="#4bd2ff"/><stop offset="0.706" stop-color="#52c3ff"/><stop offset="0.765" stop-color="#56b4ff"/><stop offset="0.824" stop-color="#57a5ff"/><stop offset="0.882" stop-color="#5795ff"/><stop offset="0.941" stop-color="#5686ff"/><stop offset="1.000" stop-color="#5277ff"/></linearGradient><linearGradient id="g106" gradientUnits="userSpaceOnUse" x1="1077.99" y1="597.00" x2="999.72" y2="619.21"><stop offset="0.000" stop-color="#92e800"/><stop offset="0.091" stop-color="#81ee00"/><stop offset="0.182" stop-color="#6ef300"/><stop offset="0.273" stop-color="#55f800"/><stop offset="0.364" stop-color="#2efd00"/><stop offset="0.455" stop-color="#16ff22"/><stop offset="0.545" stop-color="#27ff3d"/><stop offset="0.636" stop-color="#31ff51"/><stop offset="0.727" stop-color="#39ff62"/><stop offset="0.818" stop-color="#3eff72"/><stop offset="0.909" stop-color="#42ff80"/><stop offset="1.000" stop-color="#44ff8e"/></linearGradient><linearGradient id="g107" gradientUnits="userSpaceOnUse" x1="1105.45" y1="576.63" x2="1075.07" y2="577.04"><stop offset="0.000" stop-color="#c3d200"/><stop offset="0.250" stop-color="#b9d800"/><stop offset="0.500" stop-color="#adde00"/><stop offset="0.750" stop-color="#a0e300"/><stop offset="1.000" stop-color="#92e800"/></linearGradient><linearGradient id="g108" gradientUnits="userSpaceOnUse" x1="1133.45" y1="566.66" x2="1110.43" y2="555.06"><stop offset="0.000" stop-color="#cbce00"/><stop offset="1.000" stop-color="#c3d200"/></linearGradient><linearGradient id="g109" gradientUnits="userSpaceOnUse" x1="892.78" y1="738.08" x2="834.72" y2="774.38"><stop offset="0.000" stop-color="#ff9900"/><stop offset="1.000" stop-color="#ff9d00"/></linearGradient><linearGradient id="g110" gradientUnits="userSpaceOnUse" x1="903.33" y1="753.85" x2="847.64" y2="793.69"><stop offset="0.000" stop-color="#ff9900"/><stop offset="1.000" stop-color="#ff9e00"/></linearGradient><linearGradient id="g111" gradientUnits="userSpaceOnUse" x1="923.12" y1="729.19" x2="897.93" y2="746.05"><stop offset="0.000" stop-color="#ff9400"/><stop offset="1.000" stop-color="#ff9900"/></linearGradient><linearGradient id="g112" gradientUnits="userSpaceOnUse" x1="938.36" y1="749.81" x2="861.73" y2="812.15"><stop offset="0.000" stop-color="#ff9400"/><stop offset="0.167" stop-color="#ff8e00"/><stop offset="0.333" stop-color="#ff8700"/><stop offset="0.500" stop-color="#ff8100"/><stop offset="0.667" stop-color="#ff7a00"/><stop offset="0.833" stop-color="#ff7200"/><stop offset="1.000" stop-color="#ff6b00"/></linearGradient><linearGradient id="g113" gradientUnits="userSpaceOnUse" x1="1008.75" y1="681.86" x2="930.50" y2="739.68"><stop offset="0.000" stop-color="#f7ad00"/><stop offset="0.250" stop-color="#fea600"/><stop offset="0.500" stop-color="#ffa000"/><stop offset="0.750" stop-color="#ff9a00"/><stop offset="1.000" stop-color="#ff9400"/></linearGradient><linearGradient id="g114" gradientUnits="userSpaceOnUse" x1="958.36" y1="754.61" x2="876.94" y2="829.71"><stop offset="0.000" stop-color="#99e600"/><stop offset="0.125" stop-color="#89eb00"/><stop offset="0.250" stop-color="#77f100"/><stop offset="0.375" stop-color="#61f600"/><stop offset="0.500" stop-color="#42fb00"/><stop offset="0.625" stop-color="#07ff0e"/><stop offset="0.750" stop-color="#21ff34"/><stop offset="0.875" stop-color="#2eff4a"/><stop offset="1.000" stop-color="#36ff5c"/></linearGradient><linearGradient id="g115" gradientUnits="userSpaceOnUse" x1="969.81" y1="766.28" x2="893.21" y2="846.29"><stop offset="0.000" stop-color="#99e600"/><stop offset="0.250" stop-color="#8aeb00"/><stop offset="0.500" stop-color="#79f000"/><stop offset="0.750" stop-color="#65f500"/><stop offset="1.000" stop-color="#4afa00"/></linearGradient><linearGradient id="g116" gradientUnits="userSpaceOnUse" x1="1024.88" y1="700.77" x2="964.00" y2="760.54"><stop offset="0.000" stop-color="#f7ad00"/><stop offset="0.111" stop-color="#efb400"/><stop offset="0.222" stop-color="#e6bb00"/><stop offset="0.333" stop-color="#ddc200"/><stop offset="0.444" stop-color="#d4c800"/><stop offset="0.556" stop-color="#cacf00"/><stop offset="0.667" stop-color="#bfd500"/><stop offset="0.778" stop-color="#b3db00"/><stop offset="0.889" stop-color="#a7e000"/><stop offset="1.000" stop-color="#99e600"/></linearGradient><linearGradient id="g117" gradientUnits="userSpaceOnUse" x1="1028.30" y1="681.52" x2="1016.49" y2="691.60"><stop offset="0.000" stop-color="#ffa400"/><stop offset="0.500" stop-color="#fca800"/><stop offset="1.000" stop-color="#f7ad00"/></linearGradient><linearGradient id="g118" gradientUnits="userSpaceOnUse" x1="938.74" y1="828.38" x2="910.48" y2="861.82"><stop offset="0.000" stop-color="#ff7100"/><stop offset="0.333" stop-color="#ff7900"/><stop offset="0.667" stop-color="#ff8000"/><stop offset="1.000" stop-color="#ff8700"/></linearGradient><linearGradient id="g119" gradientUnits="userSpaceOnUse" x1="954.81" y1="841.13" x2="928.68" y2="876.26"><stop offset="0.000" stop-color="#ff7100"/><stop offset="1.000" stop-color="#ff7700"/></linearGradient><linearGradient id="g120" gradientUnits="userSpaceOnUse" x1="952.49" y1="827.55" x2="946.68" y2="834.88"><stop offset="0.000" stop-color="#ff6a00"/><stop offset="1.000" stop-color="#ff7100"/></linearGradient><linearGradient id="g121" gradientUnits="userSpaceOnUse" x1="976.75" y1="845.01" x2="947.74" y2="889.53"><stop offset="0.000" stop-color="#ff6a00"/><stop offset="0.143" stop-color="#ff6200"/><stop offset="0.286" stop-color="#ff5900"/><stop offset="0.429" stop-color="#ff4f00"/><stop offset="0.571" stop-color="#ff4400"/><stop offset="0.714" stop-color="#ff3700"/><stop offset="0.857" stop-color="#ff2700"/><stop offset="1.000" stop-color="#ff0a00"/></linearGradient><linearGradient id="g122" gradientUnits="userSpaceOnUse" x1="1014.04" y1="767.63" x2="964.41" y2="836.56"><stop offset="0.000" stop-color="#ff8700"/><stop offset="0.250" stop-color="#ff8000"/><stop offset="0.500" stop-color="#ff7900"/><stop offset="0.750" stop-color="#ff7200"/><stop offset="1.000" stop-color="#ff6a00"/></linearGradient><linearGradient id="g123" gradientUnits="userSpaceOnUse" x1="1035.64" y1="781.46" x2="967.59" y2="901.60"><stop offset="0.000" stop-color="#ff8700"/><stop offset="0.500" stop-color="#ff7f00"/><stop offset="1.000" stop-color="#ff7800"/></linearGradient><linearGradient id="g124" gradientUnits="userSpaceOnUse" x1="1064.31" y1="712.92" x2="1024.65" y2="774.83"><stop offset="0.000" stop-color="#ffa400"/><stop offset="0.250" stop-color="#ff9d00"/><stop offset="0.500" stop-color="#ff9600"/><stop offset="0.750" stop-color="#ff8e00"/><stop offset="1.000" stop-color="#ff8700"/></linearGradient><linearGradient id="g125" gradientUnits="userSpaceOnUse" x1="1065.19" y1="675.56" x2="1045.15" y2="698.55"><stop offset="0.000" stop-color="#ffa100"/><stop offset="1.000" stop-color="#ffa400"/></linearGradient><linearGradient id="g126" gradientUnits="userSpaceOnUse" x1="1094.16" y1="694.76" x2="988.15" y2="912.42"><stop offset="0.000" stop-color="#ffa100"/><stop offset="0.250" stop-color="#ff9b00"/><stop offset="0.500" stop-color="#ff9500"/><stop offset="0.750" stop-color="#ff8f00"/><stop offset="1.000" stop-color="#ff8900"/></linearGradient><linearGradient id="g127" gradientUnits="userSpaceOnUse" x1="1036.59" y1="855.86" x2="1009.34" y2="921.94"><stop offset="0.000" stop-color="#ff8500"/><stop offset="1.000" stop-color="#ff8c00"/></linearGradient><linearGradient id="g128" gradientUnits="userSpaceOnUse" x1="1054.17" y1="862.49" x2="1031.08" y2="930.12"><stop offset="0.000" stop-color="#ff8500"/><stop offset="0.333" stop-color="#ff7f00"/><stop offset="0.667" stop-color="#ff7900"/><stop offset="1.000" stop-color="#ff7300"/></linearGradient><linearGradient id="g129" gradientUnits="userSpaceOnUse" x1="1094.97" y1="727.46" x2="1045.33" y2="859.31"><stop offset="0.000" stop-color="#ff9900"/><stop offset="0.333" stop-color="#ff9200"/><stop offset="0.667" stop-color="#ff8c00"/><stop offset="1.000" stop-color="#ff8500"/></linearGradient><linearGradient id="g130" gradientUnits="userSpaceOnUse" x1="1092.31" y1="863.24" x2="1075.87" y2="942.37"><stop offset="0.000" stop-color="#ff9300"/><stop offset="1.000" stop-color="#ff8f00"/></linearGradient><linearGradient id="g131" gradientUnits="userSpaceOnUse" x1="1111.87" y1="804.51" x2="1101.26" y2="864.95"><stop offset="0.000" stop-color="#ff9600"/><stop offset="1.000" stop-color="#ff9300"/></linearGradient><linearGradient id="g132" gradientUnits="userSpaceOnUse" x1="1116.62" y1="733.93" x2="1101.28" y2="802.39"><stop offset="0.000" stop-color="#ff9900"/><stop offset="1.000" stop-color="#ff9600"/></linearGradient><linearGradient id="g133" gradientUnits="userSpaceOnUse" x1="1119.23" y1="685.72" x2="1105.68" y2="731.07"><stop offset="0.000" stop-color="#ffa100"/><stop offset="0.500" stop-color="#ff9d00"/><stop offset="1.000" stop-color="#ff9900"/></linearGradient><linearGradient id="g134" gradientUnits="userSpaceOnUse" x1="1114.96" y1="655.14" x2="1103.46" y2="679.71"><stop offset="0.000" stop-color="#fea600"/><stop offset="1.000" stop-color="#ffa100"/></linearGradient><linearGradient id="g135" gradientUnits="userSpaceOnUse" x1="1125.54" y1="903.11" x2="1121.83" y2="948.98"><stop offset="0.000" stop-color="#ff4c00"/><stop offset="1.000" stop-color="#ff4700"/></linearGradient><linearGradient id="g136" gradientUnits="userSpaceOnUse" x1="1145.89" y1="904.12" x2="1145.03" y2="950.14"><stop offset="0.000" stop-color="#ff4c00"/><stop offset="1.000" stop-color="#ff4000"/></linearGradient><linearGradient id="g137" gradientUnits="userSpaceOnUse" x1="1143.16" y1="753.90" x2="1135.71" y2="903.77"><stop offset="0.000" stop-color="#ff7800"/><stop offset="0.200" stop-color="#ff7000"/><stop offset="0.400" stop-color="#ff6800"/><stop offset="0.600" stop-color="#ff5f00"/><stop offset="0.800" stop-color="#ff5600"/><stop offset="1.000" stop-color="#ff4c00"/></linearGradient><linearGradient id="g138" gradientUnits="userSpaceOnUse" x1="1162.76" y1="823.49" x2="1168.26" y2="949.85"><stop offset="0.000" stop-color="#ff6d00"/><stop offset="0.250" stop-color="#ff7400"/><stop offset="0.500" stop-color="#ff7a00"/><stop offset="0.750" stop-color="#ff8100"/><stop offset="1.000" stop-color="#ff8800"/></linearGradient><linearGradient id="g139" gradientUnits="userSpaceOnUse" x1="1187.91" y1="915.00" x2="1191.42" y2="948.12"><stop offset="0.000" stop-color="#ff4b00"/><stop offset="0.250" stop-color="#ff4000"/><stop offset="0.500" stop-color="#ff3300"/><stop offset="0.750" stop-color="#ff2200"/><stop offset="1.000" stop-color="#ff0000"/></linearGradient><linearGradient id="g140" gradientUnits="userSpaceOnUse" x1="1208.88" y1="912.12" x2="1214.44" y2="944.95"><stop offset="0.000" stop-color="#ff4b00"/><stop offset="0.333" stop-color="#ff5300"/><stop offset="0.667" stop-color="#ff5b00"/><stop offset="1.000" stop-color="#ff6200"/></linearGradient><linearGradient id="g141" gradientUnits="userSpaceOnUse" x1="1185.73" y1="821.41" x2="1198.42" y2="913.72"><stop offset="0.000" stop-color="#ff6d00"/><stop offset="0.250" stop-color="#ff6500"/><stop offset="0.500" stop-color="#ff5d00"/><stop offset="0.750" stop-color="#ff5400"/><stop offset="1.000" stop-color="#ff4b00"/></linearGradient><linearGradient id="g142" gradientUnits="userSpaceOnUse" x1="1170.23" y1="778.00" x2="1174.27" y2="822.72"><stop offset="0.000" stop-color="#ff7100"/><stop offset="1.000" stop-color="#ff6d00"/></linearGradient><linearGradient id="g143" gradientUnits="userSpaceOnUse" x1="1213.26" y1="837.98" x2="1237.21" y2="940.37"><stop offset="0.000" stop-color="#ff6700"/><stop offset="0.250" stop-color="#ff5e00"/><stop offset="0.500" stop-color="#ff5300"/><stop offset="0.750" stop-color="#ff4800"/><stop offset="1.000" stop-color="#ff3a00"/></linearGradient><linearGradient id="g144" gradientUnits="userSpaceOnUse" x1="1229.40" y1="833.68" x2="1259.65" y2="934.38"><stop offset="0.000" stop-color="#ff6700"/><stop offset="0.333" stop-color="#ff6e00"/><stop offset="0.667" stop-color="#ff7500"/><stop offset="1.000" stop-color="#ff7c00"/></linearGradient><linearGradient id="g145" gradientUnits="userSpaceOnUse" x1="1204.29" y1="771.96" x2="1221.37" y2="835.95"><stop offset="0.000" stop-color="#ff7100"/><stop offset="0.500" stop-color="#ff6c00"/><stop offset="1.000" stop-color="#ff6700"/></linearGradient><linearGradient id="g146" gradientUnits="userSpaceOnUse" x1="1221.25" y1="763.44" x2="1281.68" y2="927.01"><stop offset="0.000" stop-color="#ff7100"/><stop offset="0.500" stop-color="#ff6900"/><stop offset="1.000" stop-color="#ff6100"/></linearGradient><linearGradient id="g147" gradientUnits="userSpaceOnUse" x1="1198.59" y1="747.92" x2="1204.27" y2="768.87"><stop offset="0.000" stop-color="#ff7800"/><stop offset="1.000" stop-color="#ff7100"/></linearGradient><linearGradient id="g148" gradientUnits="userSpaceOnUse" x1="1161.37" y1="662.87" x2="1171.11" y2="753.09"><stop offset="0.000" stop-color="#fea600"/><stop offset="0.167" stop-color="#ff9e00"/><stop offset="0.333" stop-color="#ff9700"/><stop offset="0.500" stop-color="#ff9000"/><stop offset="0.667" stop-color="#ff8800"/><stop offset="0.833" stop-color="#ff8000"/><stop offset="1.000" stop-color="#ff7800"/></linearGradient><linearGradient id="g149" gradientUnits="userSpaceOnUse" x1="1143.82" y1="625.09" x2="1137.64" y2="662.19"><stop offset="0.000" stop-color="#e0c000"/><stop offset="0.250" stop-color="#e8b900"/><stop offset="0.500" stop-color="#f0b300"/><stop offset="0.750" stop-color="#f7ad00"/><stop offset="1.000" stop-color="#fea600"/></linearGradient><linearGradient id="g150" gradientUnits="userSpaceOnUse" x1="1203.41" y1="692.38" x2="1303.21" y2="918.29"><stop offset="0.000" stop-color="#d2c900"/><stop offset="0.500" stop-color="#dac400"/><stop offset="1.000" stop-color="#e2be00"/></linearGradient><linearGradient id="g151" gradientUnits="userSpaceOnUse" x1="1210.53" y1="688.96" x2="1324.16" y2="908.25"><stop offset="0.000" stop-color="#d2c900"/><stop offset="0.143" stop-color="#c9cf00"/><stop offset="0.286" stop-color="#bfd500"/><stop offset="0.429" stop-color="#b4da00"/><stop offset="0.571" stop-color="#a9df00"/><stop offset="0.714" stop-color="#9ce500"/><stop offset="0.857" stop-color="#8eea00"/><stop offset="1.000" stop-color="#7eef00"/></linearGradient><linearGradient id="g152" gradientUnits="userSpaceOnUse" x1="1173.51" y1="620.88" x2="1207.00" y2="690.73"><stop offset="0.000" stop-color="#e0c000"/><stop offset="0.500" stop-color="#d9c400"/><stop offset="1.000" stop-color="#d2c900"/></linearGradient><linearGradient id="g153" gradientUnits="userSpaceOnUse" x1="1154.92" y1="596.56" x2="1158.99" y2="625.27"><stop offset="0.000" stop-color="#cbce00"/><stop offset="0.333" stop-color="#d2c900"/><stop offset="0.667" stop-color="#d9c400"/><stop offset="1.000" stop-color="#e0c000"/></linearGradient><linearGradient id="g154" gradientUnits="userSpaceOnUse" x1="1141.39" y1="583.62" x2="1135.13" y2="588.11"><stop offset="0.000" stop-color="#c7d000"/><stop offset="1.000" stop-color="#cbce00"/></linearGradient><linearGradient id="g155" gradientUnits="userSpaceOnUse" x1="1152.00" y1="576.00" x2="1141.52" y2="568.21"><stop offset="0.000" stop-color="#c1d300"/><stop offset="1.000" stop-color="#c7d000"/></linearGradient><linearGradient id="g156" gradientUnits="userSpaceOnUse" x1="1242.45" y1="726.83" x2="1344.44" y2="896.92"><stop offset="0.000" stop-color="#37ff5d"/><stop offset="0.250" stop-color="#2fff4d"/><stop offset="0.500" stop-color="#26ff3b"/><stop offset="0.750" stop-color="#16ff23"/><stop offset="1.000" stop-color="#24fe00"/></linearGradient><linearGradient id="g157" gradientUnits="userSpaceOnUse" x1="1251.63" y1="720.93" x2="1363.98" y2="884.37"><stop offset="0.000" stop-color="#37ff5d"/><stop offset="0.067" stop-color="#3dff6d"/><stop offset="0.133" stop-color="#41ff7c"/><stop offset="0.200" stop-color="#44ff8b"/><stop offset="0.267" stop-color="#46ff9a"/><stop offset="0.333" stop-color="#46ffa8"/><stop offset="0.400" stop-color="#45ffb5"/><stop offset="0.467" stop-color="#42ffc3"/><stop offset="0.533" stop-color="#3dffd1"/><stop offset="0.600" stop-color="#36ffde"/><stop offset="0.667" stop-color="#2bffec"/><stop offset="0.733" stop-color="#15fff9"/><stop offset="0.800" stop-color="#24f6ff"/><stop offset="0.867" stop-color="#3ae7ff"/><stop offset="0.933" stop-color="#47d8ff"/><stop offset="1.000" stop-color="#4fc9ff"/></linearGradient><linearGradient id="g158" gradientUnits="userSpaceOnUse" x1="1197.72" y1="647.14" x2="1247.08" y2="723.95"><stop offset="0.000" stop-color="#6cf300"/><stop offset="0.167" stop-color="#54f800"/><stop offset="0.333" stop-color="#30fd00"/><stop offset="0.500" stop-color="#13ff1e"/><stop offset="0.667" stop-color="#24ff39"/><stop offset="0.833" stop-color="#2fff4c"/><stop offset="1.000" stop-color="#37ff5d"/></linearGradient><linearGradient id="g159" gradientUnits="userSpaceOnUse" x1="1368.17" y1="852.06" x2="1382.71" y2="870.62"><stop offset="0.000" stop-color="#3a41ff"/><stop offset="1.000" stop-color="#3e47ff"/></linearGradient><linearGradient id="g160" gradientUnits="userSpaceOnUse" x1="1393.83" y1="848.18" x2="1400.54" y2="855.74"><stop offset="0.000" stop-color="#383dff"/><stop offset="1.000" stop-color="#292aff"/></linearGradient><linearGradient id="g161" gradientUnits="userSpaceOnUse" x1="1410.25" y1="832.65" x2="1417.42" y2="839.78"><stop offset="0.000" stop-color="#383dff"/><stop offset="1.000" stop-color="#414bff"/></linearGradient><linearGradient id="g162" gradientUnits="userSpaceOnUse" x1="1392.91" y1="830.76" x2="1402.16" y2="840.55"><stop offset="0.000" stop-color="#3a41ff"/><stop offset="1.000" stop-color="#383dff"/></linearGradient><linearGradient id="g163" gradientUnits="userSpaceOnUse" x1="1408.24" y1="800.83" x2="1433.27" y2="822.80"><stop offset="0.000" stop-color="#3b42ff"/><stop offset="0.500" stop-color="#2e30ff"/><stop offset="1.000" stop-color="#1918ff"/></linearGradient><linearGradient id="g164" gradientUnits="userSpaceOnUse" x1="1387.71" y1="813.92" x2="1391.92" y2="818.17"><stop offset="0.000" stop-color="#3e48ff"/><stop offset="1.000" stop-color="#3b42ff"/></linearGradient><linearGradient id="g165" gradientUnits="userSpaceOnUse" x1="1416.96" y1="780.84" x2="1448.05" y2="804.87"><stop offset="0.000" stop-color="#3e48ff"/><stop offset="0.333" stop-color="#3438ff"/><stop offset="0.667" stop-color="#2424ff"/><stop offset="1.000" stop-color="#0000ff"/></linearGradient><linearGradient id="g166" gradientUnits="userSpaceOnUse" x1="1228.81" y1="643.92" x2="1402.88" y2="797.86"><stop offset="0.000" stop-color="#5ef600"/><stop offset="0.037" stop-color="#3afc00"/><stop offset="0.074" stop-color="#11ff1c"/><stop offset="0.111" stop-color="#26ff3c"/><stop offset="0.148" stop-color="#31ff51"/><stop offset="0.185" stop-color="#39ff64"/><stop offset="0.222" stop-color="#3fff74"/><stop offset="0.259" stop-color="#43ff84"/><stop offset="0.296" stop-color="#45ff93"/><stop offset="0.333" stop-color="#46ffa2"/><stop offset="0.370" stop-color="#45ffb0"/><stop offset="0.407" stop-color="#43ffbf"/><stop offset="0.444" stop-color="#3fffcd"/><stop offset="0.481" stop-color="#38ffdb"/><stop offset="0.519" stop-color="#2dffe9"/><stop offset="0.556" stop-color="#1afff7"/><stop offset="0.593" stop-color="#20f8ff"/><stop offset="0.630" stop-color="#3ae8ff"/><stop offset="0.667" stop-color="#47d8ff"/><stop offset="0.704" stop-color="#4fc9ff"/><stop offset="0.741" stop-color="#54b9ff"/><stop offset="0.778" stop-color="#57aaff"/><stop offset="0.815" stop-color="#589aff"/><stop offset="0.852" stop-color="#568aff"/><stop offset="0.889" stop-color="#537aff"/><stop offset="0.926" stop-color="#4f6aff"/><stop offset="0.963" stop-color="#485aff"/><stop offset="1.000" stop-color="#3e48ff"/></linearGradient><linearGradient id="g167" gradientUnits="userSpaceOnUse" x1="1271.23" y1="656.87" x2="1461.68" y2="786.06"><stop offset="0.000" stop-color="#a7e000"/><stop offset="0.083" stop-color="#b4da00"/><stop offset="0.167" stop-color="#c0d400"/><stop offset="0.250" stop-color="#cccd00"/><stop offset="0.333" stop-color="#d6c700"/><stop offset="0.417" stop-color="#e0c000"/><stop offset="0.500" stop-color="#eab800"/><stop offset="0.583" stop-color="#f3b100"/><stop offset="0.667" stop-color="#fba900"/><stop offset="0.750" stop-color="#ffa100"/><stop offset="0.833" stop-color="#ff9a00"/><stop offset="0.917" stop-color="#ff9200"/><stop offset="1.000" stop-color="#ff8b00"/></linearGradient><linearGradient id="g168" gradientUnits="userSpaceOnUse" x1="1350.42" y1="693.31" x2="1474.11" y2="766.44"><stop offset="0.000" stop-color="#e2be00"/><stop offset="0.200" stop-color="#ebb700"/><stop offset="0.400" stop-color="#f4b000"/><stop offset="0.600" stop-color="#fca800"/><stop offset="0.800" stop-color="#ffa000"/><stop offset="1.000" stop-color="#ff9900"/></linearGradient><linearGradient id="g169" gradientUnits="userSpaceOnUse" x1="1443.39" y1="702.57" x2="1495.22" y2="725.08"><stop offset="0.000" stop-color="#f6ad00"/><stop offset="0.500" stop-color="#fda700"/><stop offset="1.000" stop-color="#ffa100"/></linearGradient><linearGradient id="g170" gradientUnits="userSpaceOnUse" x1="1360.47" y1="674.35" x2="1439.33" y2="711.55"><stop offset="0.000" stop-color="#e2be00"/><stop offset="0.333" stop-color="#e9b900"/><stop offset="0.667" stop-color="#f0b300"/><stop offset="1.000" stop-color="#f6ad00"/></linearGradient><linearGradient id="g171" gradientUnits="userSpaceOnUse" x1="1279.29" y1="643.47" x2="1355.67" y2="683.95"><stop offset="0.000" stop-color="#a7e000"/><stop offset="0.167" stop-color="#b3db00"/><stop offset="0.333" stop-color="#bdd500"/><stop offset="0.500" stop-color="#c7d000"/><stop offset="0.667" stop-color="#d0ca00"/><stop offset="0.833" stop-color="#d9c400"/><stop offset="1.000" stop-color="#e2be00"/></linearGradient><linearGradient id="g172" gradientUnits="userSpaceOnUse" x1="1266.78" y1="645.07" x2="1275.44" y2="650.28"><stop offset="0.000" stop-color="#97e700"/><stop offset="0.500" stop-color="#9fe300"/><stop offset="1.000" stop-color="#a7e000"/></linearGradient><linearGradient id="g173" gradientUnits="userSpaceOnUse" x1="1277.95" y1="621.64" x2="1503.81" y2="703.50"><stop offset="0.000" stop-color="#97e700"/><stop offset="0.200" stop-color="#86ec00"/><stop offset="0.400" stop-color="#73f200"/><stop offset="0.600" stop-color="#5af700"/><stop offset="0.800" stop-color="#34fc00"/><stop offset="1.000" stop-color="#14ff20"/></linearGradient><linearGradient id="g174" gradientUnits="userSpaceOnUse" x1="1262.80" y1="628.80" x2="1272.93" y2="633.63"><stop offset="0.000" stop-color="#85ed00"/><stop offset="0.500" stop-color="#8eea00"/><stop offset="1.000" stop-color="#97e700"/></linearGradient><linearGradient id="g175" gradientUnits="userSpaceOnUse" x1="1448.93" y1="663.19" x2="1511.04" y2="681.42"><stop offset="0.000" stop-color="#b6d900"/><stop offset="0.500" stop-color="#c1d300"/><stop offset="1.000" stop-color="#cccd00"/></linearGradient><linearGradient id="g176" gradientUnits="userSpaceOnUse" x1="1453.77" y1="644.59" x2="1516.89" y2="658.94"><stop offset="0.000" stop-color="#b6d900"/><stop offset="0.500" stop-color="#bdd600"/><stop offset="1.000" stop-color="#c3d200"/></linearGradient><linearGradient id="g177" gradientUnits="userSpaceOnUse" x1="1400.43" y1="640.64" x2="1451.49" y2="653.93"><stop offset="0.000" stop-color="#94e800"/><stop offset="0.333" stop-color="#a0e300"/><stop offset="0.667" stop-color="#acde00"/><stop offset="1.000" stop-color="#b6d900"/></linearGradient><linearGradient id="g178" gradientUnits="userSpaceOnUse" x1="1405.36" y1="617.26" x2="1521.34" y2="636.14"><stop offset="0.000" stop-color="#94e800"/><stop offset="0.250" stop-color="#84ed00"/><stop offset="0.500" stop-color="#70f200"/><stop offset="0.750" stop-color="#57f800"/><stop offset="1.000" stop-color="#30fd00"/></linearGradient><linearGradient id="g179" gradientUnits="userSpaceOnUse" x1="1323.35" y1="612.16" x2="1403.17" y2="629.01"><stop offset="0.000" stop-color="#81ee00"/><stop offset="0.500" stop-color="#8beb00"/><stop offset="1.000" stop-color="#94e800"/></linearGradient><linearGradient id="g180" gradientUnits="userSpaceOnUse" x1="1326.26" y1="593.37" x2="1524.36" y2="613.11"><stop offset="0.000" stop-color="#81ee00"/><stop offset="0.250" stop-color="#6ff300"/><stop offset="0.500" stop-color="#58f700"/><stop offset="0.750" stop-color="#36fc00"/><stop offset="1.000" stop-color="#0fff19"/></linearGradient><linearGradient id="g181" gradientUnits="userSpaceOnUse" x1="1273.29" y1="594.79" x2="1325.06" y2="602.80"><stop offset="0.000" stop-color="#85ed00"/><stop offset="1.000" stop-color="#81ee00"/></linearGradient><linearGradient id="g182" gradientUnits="userSpaceOnUse" x1="1249.98" y1="606.22" x2="1269.29" y2="612.18"><stop offset="0.000" stop-color="#5ef600"/><stop offset="0.500" stop-color="#74f200"/><stop offset="1.000" stop-color="#85ed00"/></linearGradient><linearGradient id="g183" gradientUnits="userSpaceOnUse" x1="1225.74" y1="617.41" x2="1241.40" y2="626.20"><stop offset="0.000" stop-color="#6cf300"/><stop offset="1.000" stop-color="#5ef600"/></linearGradient><linearGradient id="g184" gradientUnits="userSpaceOnUse" x1="1180.73" y1="603.07" x2="1213.55" y2="633.99"><stop offset="0.000" stop-color="#aedd00"/><stop offset="0.250" stop-color="#a0e300"/><stop offset="0.500" stop-color="#91e900"/><stop offset="0.750" stop-color="#80ee00"/><stop offset="1.000" stop-color="#6cf300"/></linearGradient><linearGradient id="g185" gradientUnits="userSpaceOnUse" x1="1191.45" y1="577.47" x2="1525.94" y2="589.94"><stop offset="0.000" stop-color="#aedd00"/><stop offset="0.067" stop-color="#bad700"/><stop offset="0.133" stop-color="#c6d100"/><stop offset="0.200" stop-color="#d1ca00"/><stop offset="0.267" stop-color="#dbc300"/><stop offset="0.333" stop-color="#e5bc00"/><stop offset="0.400" stop-color="#eeb400"/><stop offset="0.467" stop-color="#f7ac00"/><stop offset="0.533" stop-color="#ffa400"/><stop offset="0.600" stop-color="#ff9d00"/><stop offset="0.667" stop-color="#ff9500"/><stop offset="0.733" stop-color="#ff8e00"/><stop offset="0.800" stop-color="#ff8600"/><stop offset="0.867" stop-color="#ff7e00"/><stop offset="0.933" stop-color="#ff7500"/><stop offset="1.000" stop-color="#ff6d00"/></linearGradient><linearGradient id="g186" gradientUnits="userSpaceOnUse" x1="1152.00" y1="576.00" x2="1188.42" y2="591.24"><stop offset="0.000" stop-color="#c1d300"/><stop offset="0.500" stop-color="#b8d800"/><stop offset="1.000" stop-color="#aedd00"/></linearGradient><linearGradient id="leg" x1="0" y1="0" x2="0" y2="1"><stop offset="0.0000" stop-color="#0000ff"/><stop offset="0.0250" stop-color="#3032ff"/><stop offset="0.0500" stop-color="#424eff"/><stop offset="0.0750" stop-color="#4d66ff"/><stop offset="0.1000" stop-color="#547cff"/><stop offset="0.1250" stop-color="#5792ff"/><stop offset="0.1500" stop-color="#57a8ff"/><stop offset="0.1750" stop-color="#53beff"/><stop offset="0.2000" stop-color="#4ad3ff"/><stop offset="0.2250" stop-color="#38e9ff"/><stop offset="0.2500" stop-color="#00ffff"/><stop offset="0.2750" stop-color="#2bffeb"/><stop offset="0.3000" stop-color="#3affd8"/><stop offset="0.3250" stop-color="#42ffc4"/><stop offset="0.3500" stop-color="#45ffb0"/><stop offset="0.3750" stop-color="#46ff9c"/><stop offset="0.4000" stop-color="#43ff87"/><stop offset="0.4250" stop-color="#3eff71"/><stop offset="0.4500" stop-color="#35ff59"/><stop offset="0.4750" stop-color="#26ff3c"/><stop offset="0.5000" stop-color="#00ff00"/><stop offset="0.5250" stop-color="#58f800"/><stop offset="0.5500" stop-color="#7af000"/><stop offset="0.5750" stop-color="#93e800"/><stop offset="0.6000" stop-color="#a8e000"/><stop offset="0.6250" stop-color="#bad700"/><stop offset="0.6500" stop-color="#cace00"/><stop offset="0.6750" stop-color="#d9c500"/><stop offset="0.7000" stop-color="#e6bb00"/><stop offset="0.7250" stop-color="#f3b000"/><stop offset="0.7500" stop-color="#ffa500"/><stop offset="0.7750" stop-color="#ff9b00"/><stop offset="0.8000" stop-color="#ff9000"/><stop offset="0.8250" stop-color="#ff8600"/><stop offset="0.8500" stop-color="#ff7a00"/><stop offset="0.8750" stop-color="#ff6e00"/><stop offset="0.9000" stop-color="#ff6200"/><stop offset="0.9250" stop-color="#ff5300"/><stop offset="0.9500" stop-color="#ff4300"/><stop offset="0.9750" stop-color="#ff2e00"/><stop offset="1.0000" stop-color="#ff0000"/></linearGradient></defs>
<rect width="2304" height="1152" fill="#fff"/>
<g font-size="14.67"><text transform="translate(1524.36 538.89) rotate(-3.60)" x="3.68" y="5.10" text-anchor="start" fill="#cbce00">ahli</text>
<text transform="translate(1521.34 515.86) rotate(-7.20)" x="6.05" y="5.10" text-anchor="start" fill="#cace00">allogus</text>
<text transform="translate(1516.89 493.06) rotate(-10.80)" x="8.82" y="5.10" text-anchor="start" fill="#bbd600">rubribarbus</text>
<text transform="translate(1511.04 470.58) rotate(-14.40)" x="4.82" y="5.10" text-anchor="start" fill="#b2db00">imias</text>
<text transform="translate(1503.81 448.50) rotate(-18.00)" x="5.40" y="5.10" text-anchor="start" fill="#c0d400">sagrei</text>
<text transform="translate(1495.22 426.92) rotate(-21.60)" x="6.37" y="5.10" text-anchor="start" fill="#acde00">bremeri</text>
<text transform="translate(1485.31 405.91) rotate(-25.20)" x="10.53" y="5.10" text-anchor="start" fill="#f7ac00">quadriocellifer</text>
<text transform="translate(1474.11 385.56) rotate(-28.80)" x="8.01" y="5.10" text-anchor="start" fill="#ff6500">ophiolepis</text>
<text transform="translate(1461.68 365.94) rotate(-32.40)" x="6.21" y="5.10" text-anchor="start" fill="#ddc200">mestrei</text>
<text transform="translate(1448.05 347.13) rotate(-36.00)" x="4.66" y="5.10" text-anchor="start" fill="#e8ba00">jubar</text>
<text transform="translate(1433.27 329.20) rotate(-39.60)" x="8.82" y="5.10" text-anchor="start" fill="#cdcc00">homolechis</text>
<text transform="translate(1417.42 312.22) rotate(-43.20)" x="7.27" y="5.10" text-anchor="start" fill="#ecb600">confusus</text>
<text transform="translate(1400.54 296.26) rotate(-46.80)" x="5.07" y="5.10" text-anchor="start" fill="#fea600">guafe</text>
<text transform="translate(1382.71 281.38) rotate(-50.40)" x="6.70" y="5.10" text-anchor="start" fill="#45dbff">garmani</text>
<text transform="translate(1363.98 267.63) rotate(-54.00)" x="6.86" y="5.10" text-anchor="start" fill="#ff9c00">opalinus</text>
<text transform="translate(1344.44 255.08) rotate(-57.60)" x="6.70" y="5.10" text-anchor="start" fill="#99e600">grahami</text>
<text transform="translate(1324.16 243.75) rotate(-61.20)" x="8.74" y="5.10" text-anchor="start" fill="#22ff35">valencienni</text>
<text transform="translate(1303.21 233.71) rotate(-64.80)" x="8.09" y="5.10" text-anchor="start" fill="#a5e100">lineatopus</text>
<text transform="translate(1281.68 224.99) rotate(-68.40)" x="8.17" y="5.10" text-anchor="start" fill="#45ff96">reconditus</text>
<text transform="translate(1259.65 217.62) rotate(-72.00)" x="8.25" y="5.10" text-anchor="start" fill="#92e800">evermanni</text>
<text transform="translate(1237.21 211.63) rotate(-75.60)" x="6.94" y="5.10" text-anchor="start" fill="#ffa400">stratulus</text>
<text transform="translate(1214.44 207.05) rotate(-79.20)" x="4.58" y="5.10" text-anchor="start" fill="#fca800">krugi</text>
<text transform="translate(1191.42 203.88) rotate(-82.80)" x="7.92" y="5.10" text-anchor="start" fill="#ff9200">pulchellus</text>
<text transform="translate(1168.26 202.15) rotate(-86.40)" x="7.68" y="5.10" text-anchor="start" fill="#85ed00">gundlachi</text>
<text transform="translate(1145.03 201.86) rotate(-270.00)" x="-8.01" y="5.10" text-anchor="end" fill="#ff9700">poncensis</text>
<text transform="translate(1121.83 203.02) rotate(-273.60)" x="-4.82" y="5.10" text-anchor="end" fill="#b6d900">cooki</text>
<text transform="translate(1098.75 205.61) rotate(-277.20)" x="-8.33" y="5.10" text-anchor="end" fill="#84ed00">cristatellus</text>
<text transform="translate(1075.87 209.63) rotate(-280.80)" x="-8.57" y="5.10" text-anchor="end" fill="#ffa500">brevirostris</text>
<text transform="translate(1053.28 215.06) rotate(-284.40)" x="-6.78" y="5.10" text-anchor="end" fill="#f4af00">caudalis</text>
<text transform="translate(1031.08 221.88) rotate(-288.00)" x="-6.05" y="5.10" text-anchor="end" fill="#ff9a00">marron</text>
<text transform="translate(1009.34 230.06) rotate(-291.60)" x="-6.86" y="5.10" text-anchor="end" fill="#f3b000">websteri</text>
<text transform="translate(988.15 239.58) rotate(-295.20)" x="-7.11" y="5.10" text-anchor="end" fill="#efb400">distichus</text>
<text transform="translate(967.59 250.40) rotate(-298.80)" x="-6.78" y="5.10" text-anchor="end" fill="#ff6d00">barbouri</text>
<text transform="translate(947.74 262.47) rotate(-302.40)" x="-6.54" y="5.10" text-anchor="end" fill="#ff5400">alumina</text>
<text transform="translate(928.68 275.74) rotate(-306.00)" x="-9.55" y="5.10" text-anchor="end" fill="#ff7700">semilineatus</text>
<text transform="translate(910.48 290.18) rotate(-309.60)" x="-5.97" y="5.10" text-anchor="end" fill="#ff9100">olssoni</text>
<text transform="translate(893.21 305.71) rotate(-313.20)" x="-7.84" y="5.10" text-anchor="end" fill="#ff6b00">etheridgei</text>
<text transform="translate(876.94 322.29) rotate(-316.80)" x="-5.64" y="5.10" text-anchor="end" fill="#01ff02">fowleri</text>
<text transform="translate(861.73 339.85) rotate(-320.40)" x="-6.70" y="5.10" text-anchor="end" fill="#ff9200">insolitus</text>
<text transform="translate(847.64 358.31) rotate(-324.00)" x="-8.00" y="5.10" text-anchor="end" fill="#b3da00">whitemani</text>
<text transform="translate(834.72 377.62) rotate(-327.60)" x="-7.76" y="5.10" text-anchor="end" fill="#1fff30">haetianus</text>
<text transform="translate(823.02 397.69) rotate(-331.20)" x="-6.05" y="5.10" text-anchor="end" fill="#c6d100">breslini</text>
<text transform="translate(812.59 418.44) rotate(-334.80)" x="-6.37" y="5.10" text-anchor="end" fill="#a9df00">armouri</text>
<text transform="translate(803.47 439.80) rotate(-338.40)" x="-6.46" y="5.10" text-anchor="end" fill="#76f100">cybotes</text>
<text transform="translate(795.69 461.69) rotate(-342.00)" x="-6.13" y="5.10" text-anchor="end" fill="#dec100">shrevei</text>
<text transform="translate(789.28 484.02) rotate(-345.60)" x="-8.58" y="5.10" text-anchor="end" fill="#5cf700">longitibialis</text>
<text transform="translate(784.27 506.70) rotate(-349.20)" x="-6.21" y="5.10" text-anchor="end" fill="#32fd00">strahmi</text>
<text transform="translate(780.68 529.65) rotate(-352.80)" x="-7.43" y="5.10" text-anchor="end" fill="#bbd700">marcanoi</text>
<text transform="translate(778.52 552.78) rotate(-356.40)" x="-6.95" y="5.10" text-anchor="end" fill="#3940ff">baleatus</text>
<text transform="translate(777.80 576.00) rotate(-360.00)" x="-8.42" y="5.10" text-anchor="end" fill="#2d2fff">barahonae</text>
<text transform="translate(778.52 599.22) rotate(-363.60)" x="-5.72" y="5.10" text-anchor="end" fill="#4758ff">ricordii</text>
<text transform="translate(780.68 622.35) rotate(-367.20)" x="-11.60" y="5.10" text-anchor="end" fill="#a5e100">eugenegrahami</text>
<text transform="translate(784.27 645.30) rotate(-370.80)" x="-8.49" y="5.10" text-anchor="end" fill="#fca800">christophei</text>
<text transform="translate(789.28 667.98) rotate(-374.40)" x="-5.64" y="5.10" text-anchor="end" fill="#57a3ff">cuvieri</text>
<text transform="translate(795.69 690.31) rotate(-378.00)" x="-7.11" y="5.10" text-anchor="end" fill="#4a5eff">barbatus</text>
<text transform="translate(803.47 712.20) rotate(-381.60)" x="-5.80" y="5.10" text-anchor="end" fill="#3f4aff">porcus</text>
<text transform="translate(812.59 733.56) rotate(-385.20)" x="-12.08" y="5.10" text-anchor="end" fill="#3e47ff">chamaeleonides</text>
<text transform="translate(823.02 754.31) rotate(-388.80)" x="-9.07" y="5.10" text-anchor="end" fill="#404aff">guamuhaya</text>
<text transform="translate(834.72 774.38) rotate(-392.40)" x="-8.66" y="5.10" text-anchor="end" fill="#ff9d00">altitudinalis</text>
<text transform="translate(847.64 793.69) rotate(-396.00)" x="-7.03" y="5.10" text-anchor="end" fill="#ff9e00">oporinus</text>
<text transform="translate(861.73 812.15) rotate(-399.60)" x="-6.29" y="5.10" text-anchor="end" fill="#ff6b00">isolepis</text>
<text transform="translate(876.94 829.71) rotate(-403.20)" x="-5.89" y="5.10" text-anchor="end" fill="#36ff5c">allisoni</text>
<text transform="translate(893.21 846.29) rotate(-406.80)" x="-7.03" y="5.10" text-anchor="end" fill="#4afa00">porcatus</text>
<text transform="translate(910.48 861.82) rotate(-410.40)" x="-8.41" y="5.10" text-anchor="end" fill="#ff8700">argillaceus</text>
<text transform="translate(928.68 876.26) rotate(-414.00)" x="-6.86" y="5.10" text-anchor="end" fill="#ff7700">centralis</text>
<text transform="translate(947.74 889.53) rotate(-417.60)" x="-5.97" y="5.10" text-anchor="end" fill="#ff0a00">pumilis</text>
<text transform="translate(967.59 901.60) rotate(-421.20)" x="-6.78" y="5.10" text-anchor="end" fill="#ff7800">loysiana</text>
<text transform="translate(988.15 912.42) rotate(-424.80)" x="-7.44" y="5.10" text-anchor="end" fill="#ff8900">guazuma</text>
<text transform="translate(1009.34 921.94) rotate(-428.40)" x="-6.78" y="5.10" text-anchor="end" fill="#ff8c00">placidus</text>
<text transform="translate(1031.08 930.12) rotate(-432.00)" x="-6.86" y="5.10" text-anchor="end" fill="#ff7300">sheplani</text>
<text transform="translate(1053.28 936.94) rotate(-435.60)" x="-6.05" y="5.10" text-anchor="end" fill="#ff9600">alayoni</text>
<text transform="translate(1075.87 942.37) rotate(-439.20)" x="-9.23" y="5.10" text-anchor="end" fill="#ff8f00">angusticeps</text>
<text transform="translate(1098.75 946.39) rotate(-442.80)" x="-7.11" y="5.10" text-anchor="end" fill="#ff9300">paternus</text>
<text transform="translate(1121.83 948.98) rotate(-446.40)" x="-7.68" y="5.10" text-anchor="end" fill="#ff4700">alutaceus</text>
<text transform="translate(1145.03 950.14) rotate(-450.00)" x="-9.64" y="5.10" text-anchor="end" fill="#ff4000">inexpectatus</text>
<text transform="translate(1168.26 949.85) rotate(-273.60)" x="6.54" y="5.10" text-anchor="start" fill="#ff8800">clivicola</text>
<text transform="translate(1191.42 948.12) rotate(-277.20)" x="9.88" y="5.10" text-anchor="start" fill="#ff0000">cupeyalensis</text>
<text transform="translate(1214.44 944.95) rotate(-280.80)" x="10.13" y="5.10" text-anchor="start" fill="#ff6200">cyanopleurus</text>
<text transform="translate(1237.21 940.37) rotate(-284.40)" x="5.40" y="5.10" text-anchor="start" fill="#ff3a00">alfaroi</text>
<text transform="translate(1259.65 934.38) rotate(-288.00)" x="8.41" y="5.10" text-anchor="start" fill="#ff7c00">macilentus</text>
<text transform="translate(1281.68 927.01) rotate(-291.60)" x="7.52" y="5.10" text-anchor="start" fill="#ff6100">vanidicus</text>
<text transform="translate(1303.21 918.29) rotate(-295.20)" x="9.07" y="5.10" text-anchor="start" fill="#e2be00">argenteolus</text>
<text transform="translate(1324.16 908.25) rotate(-298.80)" x="5.15" y="5.10" text-anchor="start" fill="#7eef00">lucius</text>
<text transform="translate(1344.44 896.92) rotate(-302.40)" x="6.54" y="5.10" text-anchor="start" fill="#24fe00">bartschi</text>
<text transform="translate(1363.98 884.37) rotate(-306.00)" x="9.63" y="5.10" text-anchor="start" fill="#4fc9ff">vermiculatus</text>
<text transform="translate(1382.71 870.62) rotate(-309.60)" x="7.52" y="5.10" text-anchor="start" fill="#3e47ff">baracoae</text>
<text transform="translate(1400.54 855.74) rotate(-313.20)" x="5.32" y="5.10" text-anchor="start" fill="#292aff">noblei</text>
<text transform="translate(1417.42 839.78) rotate(-316.80)" x="8.66" y="5.10" text-anchor="start" fill="#414bff">smallwoodi</text>
<text transform="translate(1433.27 822.80) rotate(-320.40)" x="8.90" y="5.10" text-anchor="start" fill="#1918ff">luteogularis</text>
<text transform="translate(1448.05 804.87) rotate(-324.00)" x="7.35" y="5.10" text-anchor="start" fill="#0000ff">equestris</text>
<text transform="translate(1461.68 786.06) rotate(-327.60)" x="7.68" y="5.10" text-anchor="start" fill="#ff8b00">monticola</text>
<text transform="translate(1474.11 766.44) rotate(-331.20)" x="10.94" y="5.10" text-anchor="start" fill="#ff9900">bahorucoensis</text>
<text transform="translate(1485.31 746.09) rotate(-334.80)" x="11.92" y="5.10" text-anchor="start" fill="#f5ae00">dolichocephalus</text>
<text transform="translate(1495.22 725.08) rotate(-338.40)" x="8.66" y="5.10" text-anchor="start" fill="#ffa100">hendersoni</text>
<text transform="translate(1503.81 703.50) rotate(-342.00)" x="8.17" y="5.10" text-anchor="start" fill="#14ff20">darlingtoni</text>
<text transform="translate(1511.04 681.42) rotate(-345.60)" x="6.13" y="5.10" text-anchor="start" fill="#cccd00">aliniger</text>
<text transform="translate(1516.89 658.94) rotate(-349.20)" x="7.60" y="5.10" text-anchor="start" fill="#c3d200">singularis</text>
<text transform="translate(1521.34 636.14) rotate(-352.80)" x="10.04" y="5.10" text-anchor="start" fill="#30fd00">chlorocyanus</text>
<text transform="translate(1524.36 613.11) rotate(-356.40)" x="8.74" y="5.10" text-anchor="start" fill="#0fff19">coelestinus</text>
<text transform="translate(1525.94 589.94) rotate(-360.00)" x="6.78" y="5.10" text-anchor="start" fill="#ff6d00">occultus</text></g>
<path d="M1475.61 543.75L1524.36 538.89M1474.46 533.72A325.22 325.22 0 0 1 1475.61 543.75M1472.99 523.73L1521.34 515.86M1474.46 533.72A325.22 325.22 0 0 0 1472.99 523.73M1433.98 539.03L1474.46 533.72M1431.95 525.94A284.39 284.39 0 0 1 1433.98 539.03M1429.32 512.96L1516.89 493.06M1431.95 525.94A284.39 284.39 0 0 0 1429.32 512.96M1303.87 548.84L1431.95 525.94M1302.17 540.64A154.28 154.28 0 0 1 1303.87 548.84M1300.03 532.53L1511.04 470.58M1302.17 540.64A154.28 154.28 0 0 0 1300.03 532.53M1255.55 551.61L1302.17 540.64M1247.99 530.14A106.39 106.39 0 0 1 1255.55 551.61M1413.18 481.34L1503.81 448.50M1408.49 469.29A277.81 277.81 0 0 1 1413.18 481.34M1457.57 443.27L1495.22 426.92M1453.30 433.85A333.15 333.15 0 0 1 1457.57 443.27M1448.75 424.57L1485.31 405.91M1453.30 433.85A333.15 333.15 0 0 0 1448.75 424.57M1403.25 457.47L1453.30 433.85M1408.49 469.29A277.81 277.81 0 0 0 1403.25 457.47M1387.25 478.13L1408.49 469.29M1379.84 461.95A254.79 254.79 0 0 1 1387.25 478.13M1371.33 446.33L1474.11 385.56M1379.84 461.95A254.79 254.79 0 0 0 1371.33 446.33M1350.66 476.56L1379.84 461.95M1343.68 463.68A222.16 222.16 0 0 1 1350.66 476.56M1335.85 451.29L1461.68 365.94M1343.68 463.68A222.16 222.16 0 0 0 1335.85 451.29M1301.74 488.25L1343.68 463.68M1289.10 469.58A173.55 173.55 0 0 1 1301.74 488.25M1412.85 374.34L1448.05 347.13M1406.46 366.34A329.71 329.71 0 0 1 1412.85 374.34M1399.83 358.54L1433.27 329.20M1406.46 366.34A329.71 329.71 0 0 0 1399.83 358.54M1380.32 387.88L1406.46 366.34M1371.32 377.45A295.84 295.84 0 0 1 1380.32 387.88M1361.84 367.46L1417.42 312.22M1371.32 377.45A295.84 295.84 0 0 0 1361.84 367.46M1359.64 388.02L1371.32 377.45M1349.13 377.03A280.09 280.09 0 0 1 1359.64 388.02M1338.03 366.62L1400.54 296.26M1349.13 377.03A280.09 280.09 0 0 0 1338.03 366.62M1274.15 452.71L1349.13 377.03M1289.10 469.58A173.55 173.55 0 0 0 1274.15 452.71M1236.04 510.77L1289.10 469.58M1247.99 530.14A106.39 106.39 0 0 0 1236.04 510.77M1201.50 552.35L1247.99 530.14M1191.04 537.46A54.86 54.86 0 0 1 1201.50 552.35M1336.56 340.30L1382.71 281.38M1329.16 334.69A299.36 299.36 0 0 1 1336.56 340.30M1321.58 329.31L1363.98 267.63M1329.16 334.69A299.36 299.36 0 0 0 1321.58 329.31M1324.80 340.63L1329.16 334.69M1313.65 332.84A291.99 291.99 0 0 1 1324.80 340.63M1302.16 325.58L1344.44 255.08M1313.65 332.84A291.99 291.99 0 0 0 1302.16 325.58M1268.53 400.71L1313.65 332.84M1258.84 394.65A210.49 210.49 0 0 1 1268.53 400.71M1248.84 389.11L1324.16 243.75M1258.84 394.65A210.49 210.49 0 0 0 1248.84 389.11M1235.56 434.17L1258.84 394.65M1224.88 428.40A164.61 164.61 0 0 1 1235.56 434.17M1231.93 395.07L1303.21 233.71M1226.28 392.67A197.80 197.80 0 0 1 1231.93 395.07M1220.55 390.46L1281.68 224.99M1226.28 392.67A197.80 197.80 0 0 0 1220.55 390.46M1213.81 423.44L1226.28 392.67M1224.88 428.40A164.61 164.61 0 0 0 1213.81 423.44M1176.29 526.81L1224.88 428.40M1191.04 537.46A54.86 54.86 0 0 0 1176.29 526.81M1173.17 555.10L1191.04 537.46M1161.62 547.85A29.75 29.75 0 0 1 1173.17 555.10M1236.67 294.13L1259.65 217.62M1227.88 291.64A294.31 294.31 0 0 1 1236.67 294.13M1219.02 289.42L1237.21 211.63M1227.88 291.64A294.31 294.31 0 0 0 1219.02 289.42M1193.90 418.98L1227.88 291.64M1171.63 414.67A162.52 162.52 0 0 1 1193.90 418.98M1194.03 327.62L1214.44 207.05M1186.30 326.43A251.91 251.91 0 0 1 1194.03 327.62M1178.54 325.49L1191.42 203.88M1186.30 326.43A251.91 251.91 0 0 0 1178.54 325.49M1179.61 375.11L1186.30 326.43M1167.09 373.78A202.78 202.78 0 0 1 1179.61 375.11M1161.97 346.65L1168.26 202.15M1154.85 346.45A229.57 229.57 0 0 1 1161.97 346.65M1147.72 346.47L1145.03 201.86M1154.85 346.45A229.57 229.57 0 0 0 1147.72 346.47M1154.52 373.24L1154.85 346.45M1167.09 373.78A202.78 202.78 0 0 0 1154.52 373.24M1166.25 385.09L1167.09 373.78M1148.43 384.59A191.44 191.44 0 0 1 1166.25 385.09M1133.76 350.46L1121.83 203.02M1126.76 351.13A226.28 226.28 0 0 1 1133.76 350.46M1119.80 352.02L1098.75 205.61M1126.76 351.13A226.28 226.28 0 0 0 1119.80 352.02M1130.65 385.75L1126.76 351.13M1148.43 384.59A191.44 191.44 0 0 0 1130.65 385.75M1148.97 413.51L1148.43 384.59M1171.63 414.67A162.52 162.52 0 0 0 1148.97 413.51M1164.70 471.62L1171.63 414.67M1138.05 471.78A105.15 105.15 0 0 1 1164.70 471.62M1096.86 310.67L1075.87 209.63M1084.57 313.53A271.00 271.00 0 0 1 1096.86 310.67M1070.11 276.60L1053.28 215.06M1060.86 279.28A310.40 310.40 0 0 1 1070.11 276.60M1051.69 282.26L1031.08 221.88M1060.86 279.28A310.40 310.40 0 0 0 1051.69 282.26M1072.43 316.95L1060.86 279.28M1084.57 313.53A271.00 271.00 0 0 0 1072.43 316.95M1087.06 323.20L1084.57 313.53M1069.57 328.35A261.00 261.00 0 0 1 1087.06 323.20M1052.49 334.71L1009.34 230.06M1069.57 328.35A261.00 261.00 0 0 0 1052.49 334.71M1080.41 360.91L1069.57 328.35M1066.39 366.10A226.69 226.69 0 0 1 1080.41 360.91M1052.74 372.20L988.15 239.58M1066.39 366.10A226.69 226.69 0 0 0 1052.74 372.20M1112.29 478.64L1066.39 366.10M1138.05 471.78A105.15 105.15 0 0 0 1112.29 478.64M1148.05 546.51L1138.05 471.78M1161.62 547.85A29.75 29.75 0 0 0 1148.05 546.51M1156.22 563.64L1161.62 547.85M1141.52 568.21A13.06 13.06 0 0 1 1156.22 563.64M1115.51 511.56L967.59 250.40M1108.73 515.90A74.05 74.05 0 0 1 1115.51 511.56M1002.50 346.52L947.74 262.47M995.45 351.27A273.88 273.88 0 0 1 1002.50 346.52M988.55 356.24L928.68 275.74M995.45 351.27A273.88 273.88 0 0 0 988.55 356.24M1042.38 418.64L995.45 351.27M1035.17 423.91A191.78 191.78 0 0 1 1042.38 418.64M1028.22 429.52L910.48 290.18M1035.17 423.91A191.78 191.78 0 0 0 1028.22 429.52M1094.97 501.75L1035.17 423.91M1089.38 506.40A93.62 93.62 0 0 1 1094.97 501.75M1045.46 464.72L893.21 305.71M1040.39 469.80A154.06 154.06 0 0 1 1045.46 464.72M980.64 417.94L876.94 322.29M975.81 423.33A233.13 233.13 0 0 1 980.64 417.94M971.16 428.88L861.73 339.85M975.81 423.33A233.13 233.13 0 0 0 971.16 428.88M1035.57 475.11L975.81 423.33M1040.39 469.80A154.06 154.06 0 0 0 1035.57 475.11M1084.17 511.46L1040.39 469.80M1089.38 506.40A93.62 93.62 0 0 0 1084.17 511.46M1102.47 520.95L1089.38 506.40M1108.73 515.90A74.05 74.05 0 0 0 1102.47 520.95M1124.80 538.22L1108.73 515.90M1110.43 555.06A46.55 46.55 0 0 1 1124.80 538.22M953.13 433.76L847.64 358.31M941.24 452.05A244.50 244.50 0 0 1 953.13 433.76M919.43 430.59L834.72 377.62M915.03 437.87A274.29 274.29 0 0 1 919.43 430.59M910.86 445.30L823.02 397.69M915.03 437.87A274.29 274.29 0 0 0 910.86 445.30M937.34 450.88L915.03 437.87M927.45 469.64A248.47 248.47 0 0 1 937.34 450.88M862.96 441.82L812.59 418.44M858.93 450.86A318.67 318.67 0 0 1 862.96 441.82M855.19 460.02L803.47 439.80M858.93 450.86A318.67 318.67 0 0 0 855.19 460.02M873.83 457.22L858.93 450.86M868.60 470.30A302.47 302.47 0 0 1 873.83 457.22M863.99 483.61L795.69 461.69M868.60 470.30A302.47 302.47 0 0 0 863.99 483.61M919.20 489.17L868.60 470.30M927.45 469.64A248.47 248.47 0 0 0 919.20 489.17M931.03 471.33L927.45 469.64M941.24 452.05A244.50 244.50 0 0 0 931.03 471.33M976.21 472.62L941.24 452.05M962.19 501.41A203.94 203.94 0 0 1 976.21 472.62M881.41 507.38L789.28 484.02M879.41 515.82A279.15 279.15 0 0 1 881.41 507.38M877.68 524.30L784.27 506.70M879.41 515.82A279.15 279.15 0 0 0 877.68 524.30M952.86 532.03L879.41 515.82M962.19 501.41A203.94 203.94 0 0 0 952.86 532.03M992.14 513.18L962.19 501.41M985.55 533.62A171.76 171.76 0 0 1 992.14 513.18M981.56 554.73L780.68 529.65M985.55 533.62A171.76 171.76 0 0 0 981.56 554.73M1077.44 557.02L985.55 533.62M1075.07 577.04A76.94 76.94 0 0 1 1077.44 557.02M794.10 553.75L778.52 552.78M793.58 564.87A358.60 358.60 0 0 1 794.10 553.75M793.40 576.00L777.80 576.00M793.58 564.87A358.60 358.60 0 0 0 793.40 576.00M813.29 565.48L793.58 564.87M813.17 581.26A338.88 338.88 0 0 1 813.29 565.48M813.78 597.03L778.52 599.22M813.17 581.26A338.88 338.88 0 0 0 813.78 597.03M889.34 580.08L813.17 581.26M889.95 594.33A262.69 262.69 0 0 1 889.34 580.08M891.33 608.54L780.68 622.35M889.95 594.33A262.69 262.69 0 0 0 891.33 608.54M921.72 592.11L889.95 594.33M923.05 605.48A230.84 230.84 0 0 1 921.72 592.11M925.15 618.75L784.27 645.30M923.05 605.48A230.84 230.84 0 0 0 925.15 618.75M956.78 601.14L923.05 605.48M958.65 612.83A196.83 196.83 0 0 1 956.78 601.14M961.21 624.38L789.28 667.98M958.65 612.83A196.83 196.83 0 0 0 961.21 624.38M996.51 605.61L958.65 612.83M999.72 619.21A158.29 158.29 0 0 1 996.51 605.61M849.49 673.05L795.69 690.31M855.21 689.33A317.70 317.70 0 0 1 849.49 673.05M835.88 699.53L803.47 712.20M841.97 714.11A339.40 339.40 0 0 1 835.88 699.53M837.70 721.90L812.59 733.56M842.38 731.58A346.51 346.51 0 0 1 837.70 721.90M847.36 741.12L823.02 754.31M842.38 731.58A346.51 346.51 0 0 0 847.36 741.12M848.74 728.39L842.38 731.58M841.97 714.11A339.40 339.40 0 0 0 848.74 728.39M861.80 705.28L841.97 714.11M855.21 689.33A317.70 317.70 0 0 0 861.80 705.28M1004.13 632.46L855.21 689.33M999.72 619.21A158.29 158.29 0 0 0 1004.13 632.46M1077.99 597.00L999.72 619.21M1075.07 577.04A76.94 76.94 0 0 0 1077.99 597.00M1105.45 576.63L1075.07 577.04M1110.43 555.06A46.55 46.55 0 0 0 1105.45 576.63M1133.45 566.66L1110.43 555.06M1135.13 588.11A20.77 20.77 0 0 1 1133.45 566.66M892.78 738.08L834.72 774.38M897.93 746.05A305.72 305.72 0 0 1 892.78 738.08M903.33 753.85L847.64 793.69M897.93 746.05A305.72 305.72 0 0 0 903.33 753.85M923.12 729.19L897.93 746.05M930.50 739.68A275.41 275.41 0 0 1 923.12 729.19M938.36 749.81L861.73 812.15M930.50 739.68A275.41 275.41 0 0 0 938.36 749.81M1008.75 681.86L930.50 739.68M1016.49 691.60A178.12 178.12 0 0 1 1008.75 681.86M958.36 754.61L876.94 829.71M964.00 760.54A263.44 263.44 0 0 1 958.36 754.61M969.81 766.28L893.21 846.29M964.00 760.54A263.44 263.44 0 0 0 969.81 766.28M1024.88 700.77L964.00 760.54M1016.49 691.60A178.12 178.12 0 0 0 1024.88 700.77M1028.30 681.52L1016.49 691.60M1045.15 698.55A162.59 162.59 0 0 1 1028.30 681.52M938.74 828.38L910.48 861.82M946.68 834.88A330.42 330.42 0 0 1 938.74 828.38M954.81 841.13L928.68 876.26M946.68 834.88A330.42 330.42 0 0 0 954.81 841.13M952.49 827.55L946.68 834.88M964.41 836.56A321.06 321.06 0 0 1 952.49 827.55M976.75 845.01L947.74 889.53M964.41 836.56A321.06 321.06 0 0 0 976.75 845.01M1014.04 767.63L964.41 836.56M1024.65 774.83A236.12 236.12 0 0 1 1014.04 767.63M1035.64 781.46L967.59 901.60M1024.65 774.83A236.12 236.12 0 0 0 1035.64 781.46M1064.31 712.92L1024.65 774.83M1045.15 698.55A162.59 162.59 0 0 0 1064.31 712.92M1065.19 675.56L1045.15 698.55M1079.04 686.11A132.09 132.09 0 0 1 1065.19 675.56M1094.16 694.76L988.15 912.42M1079.04 686.11A132.09 132.09 0 0 0 1094.16 694.76M1088.75 671.45L1079.04 686.11M1103.46 679.71A114.51 114.51 0 0 1 1088.75 671.45M1036.59 855.86L1009.34 921.94M1045.33 859.31A302.73 302.73 0 0 1 1036.59 855.86M1054.17 862.49L1031.08 930.12M1045.33 859.31A302.73 302.73 0 0 0 1054.17 862.49M1094.97 727.46L1045.33 859.31M1105.68 731.07A161.84 161.84 0 0 1 1094.97 727.46M1090.79 799.78L1053.28 936.94M1101.28 802.39A232.00 232.00 0 0 1 1090.79 799.78M1092.31 863.24L1075.87 942.37M1101.26 864.95A293.37 293.37 0 0 1 1092.31 863.24M1110.25 866.39L1098.75 946.39M1101.26 864.95A293.37 293.37 0 0 0 1110.25 866.39M1111.87 804.51L1101.26 864.95M1101.28 802.39A232.00 232.00 0 0 0 1111.87 804.51M1116.62 733.93L1101.28 802.39M1105.68 731.07A161.84 161.84 0 0 0 1116.62 733.93M1119.23 685.72L1105.68 731.07M1103.46 679.71A114.51 114.51 0 0 0 1119.23 685.72M1114.96 655.14L1103.46 679.71M1137.64 662.19A87.38 87.38 0 0 1 1114.96 655.14M1125.54 903.11L1121.83 948.98M1135.71 903.77A328.17 328.17 0 0 1 1125.54 903.11M1145.89 904.12L1145.03 950.14M1135.71 903.77A328.17 328.17 0 0 0 1145.89 904.12M1143.16 753.90L1135.71 903.77M1171.11 753.09A178.12 178.12 0 0 1 1143.16 753.90M1162.76 823.49L1168.26 949.85M1174.27 822.72A247.72 247.72 0 0 1 1162.76 823.49M1187.91 915.00L1191.42 948.12M1198.42 913.72A340.90 340.90 0 0 1 1187.91 915.00M1208.88 912.12L1214.44 944.95M1198.42 913.72A340.90 340.90 0 0 0 1208.88 912.12M1185.73 821.41L1198.42 913.72M1174.27 822.72A247.72 247.72 0 0 0 1185.73 821.41M1170.23 778.00L1174.27 822.72M1187.39 775.70A202.82 202.82 0 0 1 1170.23 778.00M1213.26 837.98L1237.21 940.37M1221.37 835.95A269.05 269.05 0 0 1 1213.26 837.98M1229.40 833.68L1259.65 934.38M1221.37 835.95A269.05 269.05 0 0 0 1229.40 833.68M1204.29 771.96L1221.37 835.95M1187.39 775.70A202.82 202.82 0 0 0 1204.29 771.96M1186.87 772.76L1187.39 775.70M1204.27 768.87A199.82 199.82 0 0 1 1186.87 772.76M1221.25 763.44L1281.68 927.01M1204.27 768.87A199.82 199.82 0 0 0 1221.25 763.44M1198.59 747.92L1204.27 768.87M1171.11 753.09A178.12 178.12 0 0 0 1198.59 747.92M1161.37 662.87L1171.11 753.09M1137.64 662.19A87.38 87.38 0 0 0 1161.37 662.87M1143.82 625.09L1137.64 662.19M1158.99 625.27A49.77 49.77 0 0 1 1143.82 625.09M1203.41 692.38L1303.21 918.29M1207.00 690.73A127.23 127.23 0 0 1 1203.41 692.38M1210.53 688.96L1324.16 908.25M1207.00 690.73A127.23 127.23 0 0 0 1210.53 688.96M1173.51 620.88L1207.00 690.73M1158.99 625.27A49.77 49.77 0 0 0 1173.51 620.88M1154.92 596.56L1158.99 625.27M1135.13 588.11A20.77 20.77 0 0 0 1154.92 596.56M1141.39 583.62L1135.13 588.11M1141.52 568.21A13.06 13.06 0 0 0 1141.39 583.62M1152.00 576.00L1141.52 568.21M1242.45 726.83L1344.44 896.92M1247.08 723.95A175.87 175.87 0 0 1 1242.45 726.83M1251.63 720.93L1363.98 884.37M1247.08 723.95A175.87 175.87 0 0 0 1251.63 720.93M1197.72 647.14L1247.08 723.95M1213.55 633.99A84.57 84.57 0 0 1 1197.72 647.14M1368.17 852.06L1382.71 870.62M1380.79 841.70A350.63 350.63 0 0 1 1368.17 852.06M1393.83 848.18L1400.54 855.74M1402.16 840.55A364.10 364.10 0 0 1 1393.83 848.18M1410.25 832.65L1417.42 839.78M1402.16 840.55A364.10 364.10 0 0 0 1410.25 832.65M1392.91 830.76L1402.16 840.55M1380.79 841.70A350.63 350.63 0 0 0 1392.91 830.76M1374.44 834.32L1380.79 841.70M1391.92 818.17A340.90 340.90 0 0 1 1374.44 834.32M1408.24 800.83L1433.27 822.80M1391.92 818.17A340.90 340.90 0 0 0 1408.24 800.83M1387.71 813.92L1391.92 818.17M1402.88 797.86A334.91 334.91 0 0 1 1387.71 813.92M1416.96 780.84L1448.05 804.87M1402.88 797.86A334.91 334.91 0 0 0 1416.96 780.84M1228.81 643.92L1402.88 797.86M1241.40 626.20A102.53 102.53 0 0 1 1228.81 643.92M1271.23 656.87L1461.68 786.06M1275.44 650.28A144.07 144.07 0 0 1 1271.23 656.87M1350.42 693.31L1474.11 766.44M1355.67 683.95A230.51 230.51 0 0 1 1350.42 693.31M1434.98 720.41L1485.31 746.09M1439.33 711.55A317.70 317.70 0 0 1 1434.98 720.41M1443.39 702.57L1495.22 725.08M1439.33 711.55A317.70 317.70 0 0 0 1443.39 702.57M1360.47 674.35L1439.33 711.55M1355.67 683.95A230.51 230.51 0 0 0 1360.47 674.35M1279.29 643.47L1355.67 683.95M1275.44 650.28A144.07 144.07 0 0 0 1279.29 643.47M1266.78 645.07L1275.44 650.28M1272.93 633.63A133.96 133.96 0 0 1 1266.78 645.07M1277.95 621.64L1503.81 703.50M1272.93 633.63A133.96 133.96 0 0 0 1277.95 621.64M1262.80 628.80L1272.93 633.63M1269.29 612.18A122.74 122.74 0 0 1 1262.80 628.80M1448.93 663.19L1511.04 681.42M1451.49 653.93A309.46 309.46 0 0 1 1448.93 663.19M1453.77 644.59L1516.89 658.94M1451.49 653.93A309.46 309.46 0 0 0 1453.77 644.59M1400.43 640.64L1451.49 653.93M1403.17 629.01A256.70 256.70 0 0 1 1400.43 640.64M1405.36 617.26L1521.34 636.14M1403.17 629.01A256.70 256.70 0 0 0 1405.36 617.26M1323.35 612.16L1403.17 629.01M1325.06 602.80A175.13 175.13 0 0 1 1323.35 612.16M1326.26 593.37L1524.36 613.11M1325.06 602.80A175.13 175.13 0 0 0 1326.26 593.37M1273.29 594.79L1325.06 602.80M1269.29 612.18A122.74 122.74 0 0 0 1273.29 594.79M1249.98 606.22L1269.29 612.18M1241.40 626.20A102.53 102.53 0 0 0 1249.98 606.22M1225.74 617.41L1241.40 626.20M1213.55 633.99A84.57 84.57 0 0 0 1225.74 617.41M1180.73 603.07L1213.55 633.99M1188.42 591.24A39.48 39.48 0 0 1 1180.73 603.07M1191.45 577.47L1525.94 589.94M1188.42 591.24A39.48 39.48 0 0 0 1191.45 577.47M1152.00 576.00L1188.42 591.24M1152.00 576.00L1152.01 576.00" fill="none" stroke="#000" stroke-width="16.00" stroke-linecap="round" stroke-linejoin="round"/>
<g fill="none" stroke-width="11.40" stroke-linecap="round"><path d="M1475.61 543.75L1524.36 538.89" stroke="url(#g1)"/>
<path d="M1472.99 523.73L1521.34 515.86" stroke="url(#g2)"/>
<path d="M1433.98 539.03L1474.46 533.72" stroke="url(#g3)"/>
<path d="M1429.32 512.96L1516.89 493.06" stroke="url(#g4)"/>
<path d="M1303.87 548.84L1431.95 525.94" stroke="url(#g5)"/>
<path d="M1300.03 532.53L1511.04 470.58" stroke="url(#g6)"/>
<path d="M1255.55 551.61L1302.17 540.64" stroke="url(#g7)"/>
<path d="M1413.18 481.34L1503.81 448.50" stroke="url(#g8)"/>
<path d="M1457.57 443.27L1495.22 426.92" stroke="url(#g9)"/>
<path d="M1448.75 424.57L1485.31 405.91" stroke="url(#g10)"/>
<path d="M1403.25 457.47L1453.30 433.85" stroke="url(#g11)"/>
<path d="M1387.25 478.13L1408.49 469.29" stroke="url(#g12)"/>
<path d="M1371.33 446.33L1474.11 385.56" stroke="url(#g13)"/>
<path d="M1350.66 476.56L1379.84 461.95" stroke="url(#g14)"/>
<path d="M1335.85 451.29L1461.68 365.94" stroke="url(#g15)"/>
<path d="M1301.74 488.25L1343.68 463.68" stroke="url(#g16)"/>
<path d="M1412.85 374.34L1448.05 347.13" stroke="url(#g17)"/>
<path d="M1399.83 358.54L1433.27 329.20" stroke="url(#g18)"/>
<path d="M1380.32 387.88L1406.46 366.34" stroke="url(#g19)"/>
<path d="M1361.84 367.46L1417.42 312.22" stroke="url(#g20)"/>
<path d="M1359.64 388.02L1371.32 377.45" stroke="url(#g21)"/>
<path d="M1338.03 366.62L1400.54 296.26" stroke="url(#g22)"/>
<path d="M1274.15 452.71L1349.13 377.03" stroke="url(#g23)"/>
<path d="M1236.04 510.77L1289.10 469.58" stroke="url(#g24)"/>
<path d="M1201.50 552.35L1247.99 530.14" stroke="url(#g25)"/>
<path d="M1336.56 340.30L1382.71 281.38" stroke="url(#g26)"/>
<path d="M1321.58 329.31L1363.98 267.63" stroke="url(#g27)"/>
<path d="M1324.80 340.63L1329.16 334.69" stroke="url(#g28)"/>
<path d="M1302.16 325.58L1344.44 255.08" stroke="url(#g29)"/>
<path d="M1268.53 400.71L1313.65 332.84" stroke="url(#g30)"/>
<path d="M1248.84 389.11L1324.16 243.75" stroke="url(#g31)"/>
<path d="M1235.56 434.17L1258.84 394.65" stroke="url(#g32)"/>
<path d="M1231.93 395.07L1303.21 233.71" stroke="url(#g33)"/>
<path d="M1220.55 390.46L1281.68 224.99" stroke="url(#g34)"/>
<path d="M1213.81 423.44L1226.28 392.67" stroke="url(#g35)"/>
<path d="M1176.29 526.81L1224.88 428.40" stroke="url(#g36)"/>
<path d="M1173.17 555.10L1191.04 537.46" stroke="url(#g37)"/>
<path d="M1236.67 294.13L1259.65 217.62" stroke="url(#g38)"/>
<path d="M1219.02 289.42L1237.21 211.63" stroke="url(#g39)"/>
<path d="M1193.90 418.98L1227.88 291.64" stroke="url(#g40)"/>
<path d="M1194.03 327.62L1214.44 207.05" stroke="url(#g41)"/>
<path d="M1178.54 325.49L1191.42 203.88" stroke="url(#g42)"/>
<path d="M1179.61 375.11L1186.30 326.43" stroke="url(#g43)"/>
<path d="M1161.97 346.65L1168.26 202.15" stroke="url(#g44)"/>
<path d="M1147.72 346.47L1145.03 201.86" stroke="url(#g45)"/>
<path d="M1154.52 373.24L1154.85 346.45" stroke="#dac400"/>
<path d="M1166.25 385.09L1167.09 373.78" stroke="url(#g46)"/>
<path d="M1133.76 350.46L1121.83 203.02" stroke="url(#g47)"/>
<path d="M1119.80 352.02L1098.75 205.61" stroke="url(#g48)"/>
<path d="M1130.65 385.75L1126.76 351.13" stroke="url(#g49)"/>
<path d="M1148.97 413.51L1148.43 384.59" stroke="#d6c700"/>
<path d="M1164.70 471.62L1171.63 414.67" stroke="#d6c700"/>
<path d="M1096.86 310.67L1075.87 209.63" stroke="url(#g50)"/>
<path d="M1070.11 276.60L1053.28 215.06" stroke="url(#g51)"/>
<path d="M1051.69 282.26L1031.08 221.88" stroke="url(#g52)"/>
<path d="M1072.43 316.95L1060.86 279.28" stroke="url(#g53)"/>
<path d="M1087.06 323.20L1084.57 313.53" stroke="url(#g54)"/>
<path d="M1052.49 334.71L1009.34 230.06" stroke="url(#g55)"/>
<path d="M1080.41 360.91L1069.57 328.35" stroke="url(#g56)"/>
<path d="M1052.74 372.20L988.15 239.58" stroke="#efb400"/>
<path d="M1112.29 478.64L1066.39 366.10" stroke="url(#g57)"/>
<path d="M1148.05 546.51L1138.05 471.78" stroke="url(#g58)"/>
<path d="M1156.22 563.64L1161.62 547.85" stroke="#c7d000"/>
<path d="M1115.51 511.56L967.59 250.40" stroke="url(#g59)"/>
<path d="M1002.50 346.52L947.74 262.47" stroke="url(#g60)"/>
<path d="M988.55 356.24L928.68 275.74" stroke="url(#g61)"/>
<path d="M1042.38 418.64L995.45 351.27" stroke="url(#g62)"/>
<path d="M1028.22 429.52L910.48 290.18" stroke="url(#g63)"/>
<path d="M1094.97 501.75L1035.17 423.91" stroke="url(#g64)"/>
<path d="M1045.46 464.72L893.21 305.71" stroke="url(#g65)"/>
<path d="M980.64 417.94L876.94 322.29" stroke="url(#g66)"/>
<path d="M971.16 428.88L861.73 339.85" stroke="url(#g67)"/>
<path d="M1035.57 475.11L975.81 423.33" stroke="url(#g68)"/>
<path d="M1084.17 511.46L1040.39 469.80" stroke="url(#g69)"/>
<path d="M1102.47 520.95L1089.38 506.40" stroke="url(#g70)"/>
<path d="M1124.80 538.22L1108.73 515.90" stroke="url(#g71)"/>
<path d="M953.13 433.76L847.64 358.31" stroke="url(#g72)"/>
<path d="M919.43 430.59L834.72 377.62" stroke="url(#g73)"/>
<path d="M910.86 445.30L823.02 397.69" stroke="url(#g74)"/>
<path d="M937.34 450.88L915.03 437.87" stroke="url(#g75)"/>
<path d="M862.96 441.82L812.59 418.44" stroke="url(#g76)"/>
<path d="M855.19 460.02L803.47 439.80" stroke="url(#g77)"/>
<path d="M873.83 457.22L858.93 450.86" stroke="url(#g78)"/>
<path d="M863.99 483.61L795.69 461.69" stroke="url(#g79)"/>
<path d="M919.20 489.17L868.60 470.30" stroke="url(#g80)"/>
<path d="M931.03 471.33L927.45 469.64" stroke="#9de400"/>
<path d="M976.21 472.62L941.24 452.05" stroke="url(#g81)"/>
<path d="M881.41 507.38L789.28 484.02" stroke="url(#g82)"/>
<path d="M877.68 524.30L784.27 506.70" stroke="url(#g83)"/>
<path d="M952.86 532.03L879.41 515.82" stroke="url(#g84)"/>
<path d="M992.14 513.18L962.19 501.41" stroke="url(#g85)"/>
<path d="M981.56 554.73L780.68 529.65" stroke="url(#g86)"/>
<path d="M1077.44 557.02L985.55 533.62" stroke="url(#g87)"/>
<path d="M794.10 553.75L778.52 552.78" stroke="url(#g88)"/>
<path d="M793.40 576.00L777.80 576.00" stroke="url(#g89)"/>
<path d="M813.29 565.48L793.58 564.87" stroke="url(#g90)"/>
<path d="M813.78 597.03L778.52 599.22" stroke="url(#g91)"/>
<path d="M889.34 580.08L813.17 581.26" stroke="url(#g92)"/>
<path d="M891.33 608.54L780.68 622.35" stroke="url(#g93)"/>
<path d="M921.72 592.11L889.95 594.33" stroke="url(#g94)"/>
<path d="M925.15 618.75L784.27 645.30" stroke="url(#g95)"/>
<path d="M956.78 601.14L923.05 605.48" stroke="url(#g96)"/>
<path d="M961.21 624.38L789.28 667.98" stroke="url(#g97)"/>
<path d="M996.51 605.61L958.65 612.83" stroke="url(#g98)"/>
<path d="M849.49 673.05L795.69 690.31" stroke="url(#g99)"/>
<path d="M835.88 699.53L803.47 712.20" stroke="url(#g100)"/>
<path d="M837.70 721.90L812.59 733.56" stroke="url(#g101)"/>
<path d="M847.36 741.12L823.02 754.31" stroke="url(#g102)"/>
<path d="M848.74 728.39L842.38 731.58" stroke="url(#g103)"/>
<path d="M861.80 705.28L841.97 714.11" stroke="url(#g104)"/>
<path d="M1004.13 632.46L855.21 689.33" stroke="url(#g105)"/>
<path d="M1077.99 597.00L999.72 619.21" stroke="url(#g106)"/>
<path d="M1105.45 576.63L1075.07 577.04" stroke="url(#g107)"/>
<path d="M1133.45 566.66L1110.43 555.06" stroke="url(#g108)"/>
<path d="M892.78 738.08L834.72 774.38" stroke="url(#g109)"/>
<path d="M903.33 753.85L847.64 793.69" stroke="url(#g110)"/>
<path d="M923.12 729.19L897.93 746.05" stroke="url(#g111)"/>
<path d="M938.36 749.81L861.73 812.15" stroke="url(#g112)"/>
<path d="M1008.75 681.86L930.50 739.68" stroke="url(#g113)"/>
<path d="M958.36 754.61L876.94 829.71" stroke="url(#g114)"/>
<path d="M969.81 766.28L893.21 846.29" stroke="url(#g115)"/>
<path d="M1024.88 700.77L964.00 760.54" stroke="url(#g116)"/>
<path d="M1028.30 681.52L1016.49 691.60" stroke="url(#g117)"/>
<path d="M938.74 828.38L910.48 861.82" stroke="url(#g118)"/>
<path d="M954.81 841.13L928.68 876.26" stroke="url(#g119)"/>
<path d="M952.49 827.55L946.68 834.88" stroke="url(#g120)"/>
<path d="M976.75 845.01L947.74 889.53" stroke="url(#g121)"/>
<path d="M1014.04 767.63L964.41 836.56" stroke="url(#g122)"/>
<path d="M1035.64 781.46L967.59 901.60" stroke="url(#g123)"/>
<path d="M1064.31 712.92L1024.65 774.83" stroke="url(#g124)"/>
<path d="M1065.19 675.56L1045.15 698.55" stroke="url(#g125)"/>
<path d="M1094.16 694.76L988.15 912.42" stroke="url(#g126)"/>
<path d="M1088.75 671.45L1079.04 686.11" stroke="#ffa100"/>
<path d="M1036.59 855.86L1009.34 921.94" stroke="url(#g127)"/>
<path d="M1054.17 862.49L1031.08 930.12" stroke="url(#g128)"/>
<path d="M1094.97 727.46L1045.33 859.31" stroke="url(#g129)"/>
<path d="M1090.79 799.78L1053.28 936.94" stroke="#ff9600"/>
<path d="M1092.31 863.24L1075.87 942.37" stroke="url(#g130)"/>
<path d="M1110.25 866.39L1098.75 946.39" stroke="#ff9300"/>
<path d="M1111.87 804.51L1101.26 864.95" stroke="url(#g131)"/>
<path d="M1116.62 733.93L1101.28 802.39" stroke="url(#g132)"/>
<path d="M1119.23 685.72L1105.68 731.07" stroke="url(#g133)"/>
<path d="M1114.96 655.14L1103.46 679.71" stroke="url(#g134)"/>
<path d="M1125.54 903.11L1121.83 948.98" stroke="url(#g135)"/>
<path d="M1145.89 904.12L1145.03 950.14" stroke="url(#g136)"/>
<path d="M1143.16 753.90L1135.71 903.77" stroke="url(#g137)"/>
<path d="M1162.76 823.49L1168.26 949.85" stroke="url(#g138)"/>
<path d="M1187.91 915.00L1191.42 948.12" stroke="url(#g139)"/>
<path d="M1208.88 912.12L1214.44 944.95" stroke="url(#g140)"/>
<path d="M1185.73 821.41L1198.42 913.72" stroke="url(#g141)"/>
<path d="M1170.23 778.00L1174.27 822.72" stroke="url(#g142)"/>
<path d="M1213.26 837.98L1237.21 940.37" stroke="url(#g143)"/>
<path d="M1229.40 833.68L1259.65 934.38" stroke="url(#g144)"/>
<path d="M1204.29 771.96L1221.37 835.95" stroke="url(#g145)"/>
<path d="M1186.87 772.76L1187.39 775.70" stroke="#ff7100"/>
<path d="M1221.25 763.44L1281.68 927.01" stroke="url(#g146)"/>
<path d="M1198.59 747.92L1204.27 768.87" stroke="url(#g147)"/>
<path d="M1161.37 662.87L1171.11 753.09" stroke="url(#g148)"/>
<path d="M1143.82 625.09L1137.64 662.19" stroke="url(#g149)"/>
<path d="M1203.41 692.38L1303.21 918.29" stroke="url(#g150)"/>
<path d="M1210.53 688.96L1324.16 908.25" stroke="url(#g151)"/>
<path d="M1173.51 620.88L1207.00 690.73" stroke="url(#g152)"/>
<path d="M1154.92 596.56L1158.99 625.27" stroke="url(#g153)"/>
<path d="M1141.39 583.62L1135.13 588.11" stroke="url(#g154)"/>
<path d="M1152.00 576.00L1141.52 568.21" stroke="url(#g155)"/>
<path d="M1242.45 726.83L1344.44 896.92" stroke="url(#g156)"/>
<path d="M1251.63 720.93L1363.98 884.37" stroke="url(#g157)"/>
<path d="M1197.72 647.14L1247.08 723.95" stroke="url(#g158)"/>
<path d="M1368.17 852.06L1382.71 870.62" stroke="url(#g159)"/>
<path d="M1393.83 848.18L1400.54 855.74" stroke="url(#g160)"/>
<path d="M1410.25 832.65L1417.42 839.78" stroke="url(#g161)"/>
<path d="M1392.91 830.76L1402.16 840.55" stroke="url(#g162)"/>
<path d="M1374.44 834.32L1380.79 841.70" stroke="#3a41ff"/>
<path d="M1408.24 800.83L1433.27 822.80" stroke="url(#g163)"/>
<path d="M1387.71 813.92L1391.92 818.17" stroke="url(#g164)"/>
<path d="M1416.96 780.84L1448.05 804.87" stroke="url(#g165)"/>
<path d="M1228.81 643.92L1402.88 797.86" stroke="url(#g166)"/>
<path d="M1271.23 656.87L1461.68 786.06" stroke="url(#g167)"/>
<path d="M1350.42 693.31L1474.11 766.44" stroke="url(#g168)"/>
<path d="M1434.98 720.41L1485.31 746.09" stroke="#f6ae00"/>
<path d="M1443.39 702.57L1495.22 725.08" stroke="url(#g169)"/>
<path d="M1360.47 674.35L1439.33 711.55" stroke="url(#g170)"/>
<path d="M1279.29 643.47L1355.67 683.95" stroke="url(#g171)"/>
<path d="M1266.78 645.07L1275.44 650.28" stroke="url(#g172)"/>
<path d="M1277.95 621.64L1503.81 703.50" stroke="url(#g173)"/>
<path d="M1262.80 628.80L1272.93 633.63" stroke="url(#g174)"/>
<path d="M1448.93 663.19L1511.04 681.42" stroke="url(#g175)"/>
<path d="M1453.77 644.59L1516.89 658.94" stroke="url(#g176)"/>
<path d="M1400.43 640.64L1451.49 653.93" stroke="url(#g177)"/>
<path d="M1405.36 617.26L1521.34 636.14" stroke="url(#g178)"/>
<path d="M1323.35 612.16L1403.17 629.01" stroke="url(#g179)"/>
<path d="M1326.26 593.37L1524.36 613.11" stroke="url(#g180)"/>
<path d="M1273.29 594.79L1325.06 602.80" stroke="url(#g181)"/>
<path d="M1249.98 606.22L1269.29 612.18" stroke="url(#g182)"/>
<path d="M1225.74 617.41L1241.40 626.20" stroke="url(#g183)"/>
<path d="M1180.73 603.07L1213.55 633.99" stroke="url(#g184)"/>
<path d="M1191.45 577.47L1525.94 589.94" stroke="url(#g185)"/>
<path d="M1152.00 576.00L1188.42 591.24" stroke="url(#g186)"/>
<path d="M1152.00 576.00l0.01 0" stroke="#c1d300"/>
<path d="M1474.46 533.72A325.22 325.22 0 0 1 1475.61 543.75" stroke="#c8cf00"/>
<path d="M1474.46 533.72A325.22 325.22 0 0 0 1472.99 523.73" stroke="#c8cf00"/>
<path d="M1431.95 525.94A284.39 284.39 0 0 1 1433.98 539.03" stroke="#c5d100"/>
<path d="M1431.95 525.94A284.39 284.39 0 0 0 1429.32 512.96" stroke="#c5d100"/>
<path d="M1302.17 540.64A154.28 154.28 0 0 1 1303.87 548.84" stroke="#c6d000"/>
<path d="M1302.17 540.64A154.28 154.28 0 0 0 1300.03 532.53" stroke="#c6d000"/>
<path d="M1247.99 530.14A106.39 106.39 0 0 1 1255.55 551.61" stroke="#cbce00"/>
<path d="M1408.49 469.29A277.81 277.81 0 0 1 1413.18 481.34" stroke="#e4bd00"/>
<path d="M1453.30 433.85A333.15 333.15 0 0 1 1457.57 443.27" stroke="#dac400"/>
<path d="M1453.30 433.85A333.15 333.15 0 0 0 1448.75 424.57" stroke="#dac400"/>
<path d="M1408.49 469.29A277.81 277.81 0 0 0 1403.25 457.47" stroke="#e4bd00"/>
<path d="M1379.84 461.95A254.79 254.79 0 0 1 1387.25 478.13" stroke="#f0b300"/>
<path d="M1379.84 461.95A254.79 254.79 0 0 0 1371.33 446.33" stroke="#f0b300"/>
<path d="M1343.68 463.68A222.16 222.16 0 0 1 1350.66 476.56" stroke="#e8ba00"/>
<path d="M1343.68 463.68A222.16 222.16 0 0 0 1335.85 451.29" stroke="#e8ba00"/>
<path d="M1289.10 469.58A173.55 173.55 0 0 1 1301.74 488.25" stroke="#dfc000"/>
<path d="M1406.46 366.34A329.71 329.71 0 0 1 1412.85 374.34" stroke="#e0c000"/>
<path d="M1406.46 366.34A329.71 329.71 0 0 0 1399.83 358.54" stroke="#e0c000"/>
<path d="M1371.32 377.45A295.84 295.84 0 0 1 1380.32 387.88" stroke="#e7ba00"/>
<path d="M1371.32 377.45A295.84 295.84 0 0 0 1361.84 367.46" stroke="#e7ba00"/>
<path d="M1349.13 377.03A280.09 280.09 0 0 1 1359.64 388.02" stroke="#e9b900"/>
<path d="M1349.13 377.03A280.09 280.09 0 0 0 1338.03 366.62" stroke="#e9b900"/>
<path d="M1289.10 469.58A173.55 173.55 0 0 0 1274.15 452.71" stroke="#dfc000"/>
<path d="M1247.99 530.14A106.39 106.39 0 0 0 1236.04 510.77" stroke="#cbce00"/>
<path d="M1191.04 537.46A54.86 54.86 0 0 1 1201.50 552.35" stroke="#bfd400"/>
<path d="M1329.16 334.69A299.36 299.36 0 0 1 1336.56 340.30" stroke="#4cfa00"/>
<path d="M1329.16 334.69A299.36 299.36 0 0 0 1321.58 329.31" stroke="#4cfa00"/>
<path d="M1313.65 332.84A291.99 291.99 0 0 1 1324.80 340.63" stroke="#56f800"/>
<path d="M1313.65 332.84A291.99 291.99 0 0 0 1302.16 325.58" stroke="#56f800"/>
<path d="M1258.84 394.65A210.49 210.49 0 0 1 1268.53 400.71" stroke="#5df700"/>
<path d="M1258.84 394.65A210.49 210.49 0 0 0 1248.84 389.11" stroke="#5df700"/>
<path d="M1224.88 428.40A164.61 164.61 0 0 1 1235.56 434.17" stroke="#73f200"/>
<path d="M1226.28 392.67A197.80 197.80 0 0 1 1231.93 395.07" stroke="#5ff600"/>
<path d="M1226.28 392.67A197.80 197.80 0 0 0 1220.55 390.46" stroke="#5ff600"/>
<path d="M1224.88 428.40A164.61 164.61 0 0 0 1213.81 423.44" stroke="#73f200"/>
<path d="M1191.04 537.46A54.86 54.86 0 0 0 1176.29 526.81" stroke="#bfd400"/>
<path d="M1161.62 547.85A29.75 29.75 0 0 1 1173.17 555.10" stroke="#c6d000"/>
<path d="M1227.88 291.64A294.31 294.31 0 0 1 1236.67 294.13" stroke="#d3c900"/>
<path d="M1227.88 291.64A294.31 294.31 0 0 0 1219.02 289.42" stroke="#d3c900"/>
<path d="M1171.63 414.67A162.52 162.52 0 0 1 1193.90 418.98" stroke="#d6c700"/>
<path d="M1186.30 326.43A251.91 251.91 0 0 1 1194.03 327.62" stroke="#f0b300"/>
<path d="M1186.30 326.43A251.91 251.91 0 0 0 1178.54 325.49" stroke="#f0b300"/>
<path d="M1167.09 373.78A202.78 202.78 0 0 1 1179.61 375.11" stroke="#dbc300"/>
<path d="M1154.85 346.45A229.57 229.57 0 0 1 1161.97 346.65" stroke="#dac400"/>
<path d="M1154.85 346.45A229.57 229.57 0 0 0 1147.72 346.47" stroke="#dac400"/>
<path d="M1167.09 373.78A202.78 202.78 0 0 0 1154.52 373.24" stroke="#dbc300"/>
<path d="M1148.43 384.59A191.44 191.44 0 0 1 1166.25 385.09" stroke="#d6c700"/>
<path d="M1126.76 351.13A226.28 226.28 0 0 1 1133.76 350.46" stroke="#c7d000"/>
<path d="M1126.76 351.13A226.28 226.28 0 0 0 1119.80 352.02" stroke="#c7d000"/>
<path d="M1148.43 384.59A191.44 191.44 0 0 0 1130.65 385.75" stroke="#d6c700"/>
<path d="M1171.63 414.67A162.52 162.52 0 0 0 1148.97 413.51" stroke="#d6c700"/>
<path d="M1138.05 471.78A105.15 105.15 0 0 1 1164.70 471.62" stroke="#d6c600"/>
<path d="M1084.57 313.53A271.00 271.00 0 0 1 1096.86 310.67" stroke="#f7ac00"/>
<path d="M1060.86 279.28A310.40 310.40 0 0 1 1070.11 276.60" stroke="#fca800"/>
<path d="M1060.86 279.28A310.40 310.40 0 0 0 1051.69 282.26" stroke="#fca800"/>
<path d="M1084.57 313.53A271.00 271.00 0 0 0 1072.43 316.95" stroke="#f7ac00"/>
<path d="M1069.57 328.35A261.00 261.00 0 0 1 1087.06 323.20" stroke="#f5ae00"/>
<path d="M1069.57 328.35A261.00 261.00 0 0 0 1052.49 334.71" stroke="#f5ae00"/>
<path d="M1066.39 366.10A226.69 226.69 0 0 1 1080.41 360.91" stroke="#efb400"/>
<path d="M1066.39 366.10A226.69 226.69 0 0 0 1052.74 372.20" stroke="#efb400"/>
<path d="M1138.05 471.78A105.15 105.15 0 0 0 1112.29 478.64" stroke="#d6c600"/>
<path d="M1161.62 547.85A29.75 29.75 0 0 0 1148.05 546.51" stroke="#c6d000"/>
<path d="M1141.52 568.21A13.06 13.06 0 0 1 1156.22 563.64" stroke="#c7d000"/>
<path d="M1108.73 515.90A74.05 74.05 0 0 1 1115.51 511.56" stroke="#dfc000"/>
<path d="M995.45 351.27A273.88 273.88 0 0 1 1002.50 346.52" stroke="#ff7900"/>
<path d="M995.45 351.27A273.88 273.88 0 0 0 988.55 356.24" stroke="#ff7900"/>
<path d="M1035.17 423.91A191.78 191.78 0 0 1 1042.38 418.64" stroke="#ff9500"/>
<path d="M1035.17 423.91A191.78 191.78 0 0 0 1028.22 429.52" stroke="#ff9500"/>
<path d="M1089.38 506.40A93.62 93.62 0 0 1 1094.97 501.75" stroke="#eab800"/>
<path d="M1040.39 469.80A154.06 154.06 0 0 1 1045.46 464.72" stroke="#f1b200"/>
<path d="M975.81 423.33A233.13 233.13 0 0 1 980.64 417.94" stroke="#ddc200"/>
<path d="M975.81 423.33A233.13 233.13 0 0 0 971.16 428.88" stroke="#ddc200"/>
<path d="M1040.39 469.80A154.06 154.06 0 0 0 1035.57 475.11" stroke="#f1b200"/>
<path d="M1089.38 506.40A93.62 93.62 0 0 0 1084.17 511.46" stroke="#eab800"/>
<path d="M1108.73 515.90A74.05 74.05 0 0 0 1102.47 520.95" stroke="#dfc000"/>
<path d="M1110.43 555.06A46.55 46.55 0 0 1 1124.80 538.22" stroke="#c3d200"/>
<path d="M941.24 452.05A244.50 244.50 0 0 1 953.13 433.76" stroke="#9de400"/>
<path d="M915.03 437.87A274.29 274.29 0 0 1 919.43 430.59" stroke="#96e700"/>
<path d="M915.03 437.87A274.29 274.29 0 0 0 910.86 445.30" stroke="#96e700"/>
<path d="M927.45 469.64A248.47 248.47 0 0 1 937.34 450.88" stroke="#9de400"/>
<path d="M858.93 450.86A318.67 318.67 0 0 1 862.96 441.82" stroke="#a3e200"/>
<path d="M858.93 450.86A318.67 318.67 0 0 0 855.19 460.02" stroke="#a3e200"/>
<path d="M868.60 470.30A302.47 302.47 0 0 1 873.83 457.22" stroke="#acde00"/>
<path d="M868.60 470.30A302.47 302.47 0 0 0 863.99 483.61" stroke="#acde00"/>
<path d="M927.45 469.64A248.47 248.47 0 0 0 919.20 489.17" stroke="#9de400"/>
<path d="M941.24 452.05A244.50 244.50 0 0 0 931.03 471.33" stroke="#9de400"/>
<path d="M962.19 501.41A203.94 203.94 0 0 1 976.21 472.62" stroke="#92e800"/>
<path d="M879.41 515.82A279.15 279.15 0 0 1 881.41 507.38" stroke="#6ef300"/>
<path d="M879.41 515.82A279.15 279.15 0 0 0 877.68 524.30" stroke="#6ef300"/>
<path d="M962.19 501.41A203.94 203.94 0 0 0 952.86 532.03" stroke="#92e800"/>
<path d="M985.55 533.62A171.76 171.76 0 0 1 992.14 513.18" stroke="#97e600"/>
<path d="M985.55 533.62A171.76 171.76 0 0 0 981.56 554.73" stroke="#97e600"/>
<path d="M1075.07 577.04A76.94 76.94 0 0 1 1077.44 557.02" stroke="#92e800"/>
<path d="M793.58 564.87A358.60 358.60 0 0 1 794.10 553.75" stroke="#414dff"/>
<path d="M793.58 564.87A358.60 358.60 0 0 0 793.40 576.00" stroke="#414dff"/>
<path d="M813.17 581.26A338.88 338.88 0 0 1 813.29 565.48" stroke="#537aff"/>
<path d="M813.17 581.26A338.88 338.88 0 0 0 813.78 597.03" stroke="#537aff"/>
<path d="M889.95 594.33A262.69 262.69 0 0 1 889.34 580.08" stroke="#46ffa5"/>
<path d="M889.95 594.33A262.69 262.69 0 0 0 891.33 608.54" stroke="#46ffa5"/>
<path d="M923.05 605.48A230.84 230.84 0 0 1 921.72 592.11" stroke="#42ff7f"/>
<path d="M923.05 605.48A230.84 230.84 0 0 0 925.15 618.75" stroke="#42ff7f"/>
<path d="M958.65 612.83A196.83 196.83 0 0 1 956.78 601.14" stroke="#46ff9a"/>
<path d="M958.65 612.83A196.83 196.83 0 0 0 961.21 624.38" stroke="#46ff9a"/>
<path d="M999.72 619.21A158.29 158.29 0 0 1 996.51 605.61" stroke="#44ff8e"/>
<path d="M855.21 689.33A317.70 317.70 0 0 1 849.49 673.05" stroke="#5277ff"/>
<path d="M841.97 714.11A339.40 339.40 0 0 1 835.88 699.53" stroke="#485bff"/>
<path d="M842.38 731.58A346.51 346.51 0 0 1 837.70 721.90" stroke="#4655ff"/>
<path d="M842.38 731.58A346.51 346.51 0 0 0 847.36 741.12" stroke="#4655ff"/>
<path d="M841.97 714.11A339.40 339.40 0 0 0 848.74 728.39" stroke="#485bff"/>
<path d="M855.21 689.33A317.70 317.70 0 0 0 861.80 705.28" stroke="#5277ff"/>
<path d="M999.72 619.21A158.29 158.29 0 0 0 1004.13 632.46" stroke="#44ff8e"/>
<path d="M1075.07 577.04A76.94 76.94 0 0 0 1077.99 597.00" stroke="#92e800"/>
<path d="M1110.43 555.06A46.55 46.55 0 0 0 1105.45 576.63" stroke="#c3d200"/>
<path d="M1135.13 588.11A20.77 20.77 0 0 1 1133.45 566.66" stroke="#cbce00"/>
<path d="M897.93 746.05A305.72 305.72 0 0 1 892.78 738.08" stroke="#ff9900"/>
<path d="M897.93 746.05A305.72 305.72 0 0 0 903.33 753.85" stroke="#ff9900"/>
<path d="M930.50 739.68A275.41 275.41 0 0 1 923.12 729.19" stroke="#ff9400"/>
<path d="M930.50 739.68A275.41 275.41 0 0 0 938.36 749.81" stroke="#ff9400"/>
<path d="M1016.49 691.60A178.12 178.12 0 0 1 1008.75 681.86" stroke="#f7ad00"/>
<path d="M964.00 760.54A263.44 263.44 0 0 1 958.36 754.61" stroke="#99e600"/>
<path d="M964.00 760.54A263.44 263.44 0 0 0 969.81 766.28" stroke="#99e600"/>
<path d="M1016.49 691.60A178.12 178.12 0 0 0 1024.88 700.77" stroke="#f7ad00"/>
<path d="M1045.15 698.55A162.59 162.59 0 0 1 1028.30 681.52" stroke="#ffa400"/>
<path d="M946.68 834.88A330.42 330.42 0 0 1 938.74 828.38" stroke="#ff7100"/>
<path d="M946.68 834.88A330.42 330.42 0 0 0 954.81 841.13" stroke="#ff7100"/>
<path d="M964.41 836.56A321.06 321.06 0 0 1 952.49 827.55" stroke="#ff6a00"/>
<path d="M964.41 836.56A321.06 321.06 0 0 0 976.75 845.01" stroke="#ff6a00"/>
<path d="M1024.65 774.83A236.12 236.12 0 0 1 1014.04 767.63" stroke="#ff8700"/>
<path d="M1024.65 774.83A236.12 236.12 0 0 0 1035.64 781.46" stroke="#ff8700"/>
<path d="M1045.15 698.55A162.59 162.59 0 0 0 1064.31 712.92" stroke="#ffa400"/>
<path d="M1079.04 686.11A132.09 132.09 0 0 1 1065.19 675.56" stroke="#ffa100"/>
<path d="M1079.04 686.11A132.09 132.09 0 0 0 1094.16 694.76" stroke="#ffa100"/>
<path d="M1103.46 679.71A114.51 114.51 0 0 1 1088.75 671.45" stroke="#ffa100"/>
<path d="M1045.33 859.31A302.73 302.73 0 0 1 1036.59 855.86" stroke="#ff8500"/>
<path d="M1045.33 859.31A302.73 302.73 0 0 0 1054.17 862.49" stroke="#ff8500"/>
<path d="M1105.68 731.07A161.84 161.84 0 0 1 1094.97 727.46" stroke="#ff9900"/>
<path d="M1101.28 802.39A232.00 232.00 0 0 1 1090.79 799.78" stroke="#ff9600"/>
<path d="M1101.26 864.95A293.37 293.37 0 0 1 1092.31 863.24" stroke="#ff9300"/>
<path d="M1101.26 864.95A293.37 293.37 0 0 0 1110.25 866.39" stroke="#ff9300"/>
<path d="M1101.28 802.39A232.00 232.00 0 0 0 1111.87 804.51" stroke="#ff9600"/>
<path d="M1105.68 731.07A161.84 161.84 0 0 0 1116.62 733.93" stroke="#ff9900"/>
<path d="M1103.46 679.71A114.51 114.51 0 0 0 1119.23 685.72" stroke="#ffa100"/>
<path d="M1137.64 662.19A87.38 87.38 0 0 1 1114.96 655.14" stroke="#fea600"/>
<path d="M1135.71 903.77A328.17 328.17 0 0 1 1125.54 903.11" stroke="#ff4c00"/>
<path d="M1135.71 903.77A328.17 328.17 0 0 0 1145.89 904.12" stroke="#ff4c00"/>
<path d="M1171.11 753.09A178.12 178.12 0 0 1 1143.16 753.90" stroke="#ff7800"/>
<path d="M1174.27 822.72A247.72 247.72 0 0 1 1162.76 823.49" stroke="#ff6d00"/>
<path d="M1198.42 913.72A340.90 340.90 0 0 1 1187.91 915.00" stroke="#ff4b00"/>
<path d="M1198.42 913.72A340.90 340.90 0 0 0 1208.88 912.12" stroke="#ff4b00"/>
<path d="M1174.27 822.72A247.72 247.72 0 0 0 1185.73 821.41" stroke="#ff6d00"/>
<path d="M1187.39 775.70A202.82 202.82 0 0 1 1170.23 778.00" stroke="#ff7100"/>
<path d="M1221.37 835.95A269.05 269.05 0 0 1 1213.26 837.98" stroke="#ff6700"/>
<path d="M1221.37 835.95A269.05 269.05 0 0 0 1229.40 833.68" stroke="#ff6700"/>
<path d="M1187.39 775.70A202.82 202.82 0 0 0 1204.29 771.96" stroke="#ff7100"/>
<path d="M1204.27 768.87A199.82 199.82 0 0 1 1186.87 772.76" stroke="#ff7100"/>
<path d="M1204.27 768.87A199.82 199.82 0 0 0 1221.25 763.44" stroke="#ff7100"/>
<path d="M1171.11 753.09A178.12 178.12 0 0 0 1198.59 747.92" stroke="#ff7800"/>
<path d="M1137.64 662.19A87.38 87.38 0 0 0 1161.37 662.87" stroke="#fea600"/>
<path d="M1158.99 625.27A49.77 49.77 0 0 1 1143.82 625.09" stroke="#e0c000"/>
<path d="M1207.00 690.73A127.23 127.23 0 0 1 1203.41 692.38" stroke="#d2c900"/>
<path d="M1207.00 690.73A127.23 127.23 0 0 0 1210.53 688.96" stroke="#d2c900"/>
<path d="M1158.99 625.27A49.77 49.77 0 0 0 1173.51 620.88" stroke="#e0c000"/>
<path d="M1135.13 588.11A20.77 20.77 0 0 0 1154.92 596.56" stroke="#cbce00"/>
<path d="M1141.52 568.21A13.06 13.06 0 0 0 1141.39 583.62" stroke="#c7d000"/>
<path d="M1247.08 723.95A175.87 175.87 0 0 1 1242.45 726.83" stroke="#37ff5d"/>
<path d="M1247.08 723.95A175.87 175.87 0 0 0 1251.63 720.93" stroke="#37ff5d"/>
<path d="M1213.55 633.99A84.57 84.57 0 0 1 1197.72 647.14" stroke="#6cf300"/>
<path d="M1380.79 841.70A350.63 350.63 0 0 1 1368.17 852.06" stroke="#3a41ff"/>
<path d="M1402.16 840.55A364.10 364.10 0 0 1 1393.83 848.18" stroke="#383dff"/>
<path d="M1402.16 840.55A364.10 364.10 0 0 0 1410.25 832.65" stroke="#383dff"/>
<path d="M1380.79 841.70A350.63 350.63 0 0 0 1392.91 830.76" stroke="#3a41ff"/>
<path d="M1391.92 818.17A340.90 340.90 0 0 1 1374.44 834.32" stroke="#3b42ff"/>
<path d="M1391.92 818.17A340.90 340.90 0 0 0 1408.24 800.83" stroke="#3b42ff"/>
<path d="M1402.88 797.86A334.91 334.91 0 0 1 1387.71 813.92" stroke="#3e48ff"/>
<path d="M1402.88 797.86A334.91 334.91 0 0 0 1416.96 780.84" stroke="#3e48ff"/>
<path d="M1241.40 626.20A102.53 102.53 0 0 1 1228.81 643.92" stroke="#5ef600"/>
<path d="M1275.44 650.28A144.07 144.07 0 0 1 1271.23 656.87" stroke="#a7e000"/>
<path d="M1355.67 683.95A230.51 230.51 0 0 1 1350.42 693.31" stroke="#e2be00"/>
<path d="M1439.33 711.55A317.70 317.70 0 0 1 1434.98 720.41" stroke="#f6ad00"/>
<path d="M1439.33 711.55A317.70 317.70 0 0 0 1443.39 702.57" stroke="#f6ad00"/>
<path d="M1355.67 683.95A230.51 230.51 0 0 0 1360.47 674.35" stroke="#e2be00"/>
<path d="M1275.44 650.28A144.07 144.07 0 0 0 1279.29 643.47" stroke="#a7e000"/>
<path d="M1272.93 633.63A133.96 133.96 0 0 1 1266.78 645.07" stroke="#97e700"/>
<path d="M1272.93 633.63A133.96 133.96 0 0 0 1277.95 621.64" stroke="#97e700"/>
<path d="M1269.29 612.18A122.74 122.74 0 0 1 1262.80 628.80" stroke="#85ed00"/>
<path d="M1451.49 653.93A309.46 309.46 0 0 1 1448.93 663.19" stroke="#b6d900"/>
<path d="M1451.49 653.93A309.46 309.46 0 0 0 1453.77 644.59" stroke="#b6d900"/>
<path d="M1403.17 629.01A256.70 256.70 0 0 1 1400.43 640.64" stroke="#94e800"/>
<path d="M1403.17 629.01A256.70 256.70 0 0 0 1405.36 617.26" stroke="#94e800"/>
<path d="M1325.06 602.80A175.13 175.13 0 0 1 1323.35 612.16" stroke="#81ee00"/>
<path d="M1325.06 602.80A175.13 175.13 0 0 0 1326.26 593.37" stroke="#81ee00"/>
<path d="M1269.29 612.18A122.74 122.74 0 0 0 1273.29 594.79" stroke="#85ed00"/>
<path d="M1241.40 626.20A102.53 102.53 0 0 0 1249.98 606.22" stroke="#5ef600"/>
<path d="M1213.55 633.99A84.57 84.57 0 0 0 1225.74 617.41" stroke="#6cf300"/>
<path d="M1188.42 591.24A39.48 39.48 0 0 1 1180.73 603.07" stroke="#aedd00"/>
<path d="M1188.42 591.24A39.48 39.48 0 0 0 1191.45 577.47" stroke="#aedd00"/></g>
<g><rect x="608.0" y="81.9" width="46.2" height="230.0" fill="url(#leg)"/>
<path d="M608.0 97.80h9.2M654.2 97.80h-9.2" stroke="#fff" stroke-width="1.8" stroke-linecap="butt" opacity="0.7"/>
<text x="669" y="101.70" font-size="11.73" fill="#000">5.0</text>
<path d="M608.0 167.30h9.2M654.2 167.30h-9.2" stroke="#fff" stroke-width="1.8" stroke-linecap="butt" opacity="0.7"/>
<text x="669" y="171.20" font-size="11.73" fill="#000">4.5</text>
<path d="M608.0 236.90h9.2M654.2 236.90h-9.2" stroke="#fff" stroke-width="1.8" stroke-linecap="butt" opacity="0.7"/>
<text x="669" y="240.80" font-size="11.73" fill="#000">4.0</text>
<path d="M608.0 306.50h9.2M654.2 306.50h-9.2" stroke="#fff" stroke-width="1.8" stroke-linecap="butt" opacity="0.7"/>
<text x="669" y="309.50" font-size="11.73" fill="#000">3.5</text>
<text x="608" y="65.5" font-size="14.67" fill="#000">trait</text></g>
</svg>
</body></html>
